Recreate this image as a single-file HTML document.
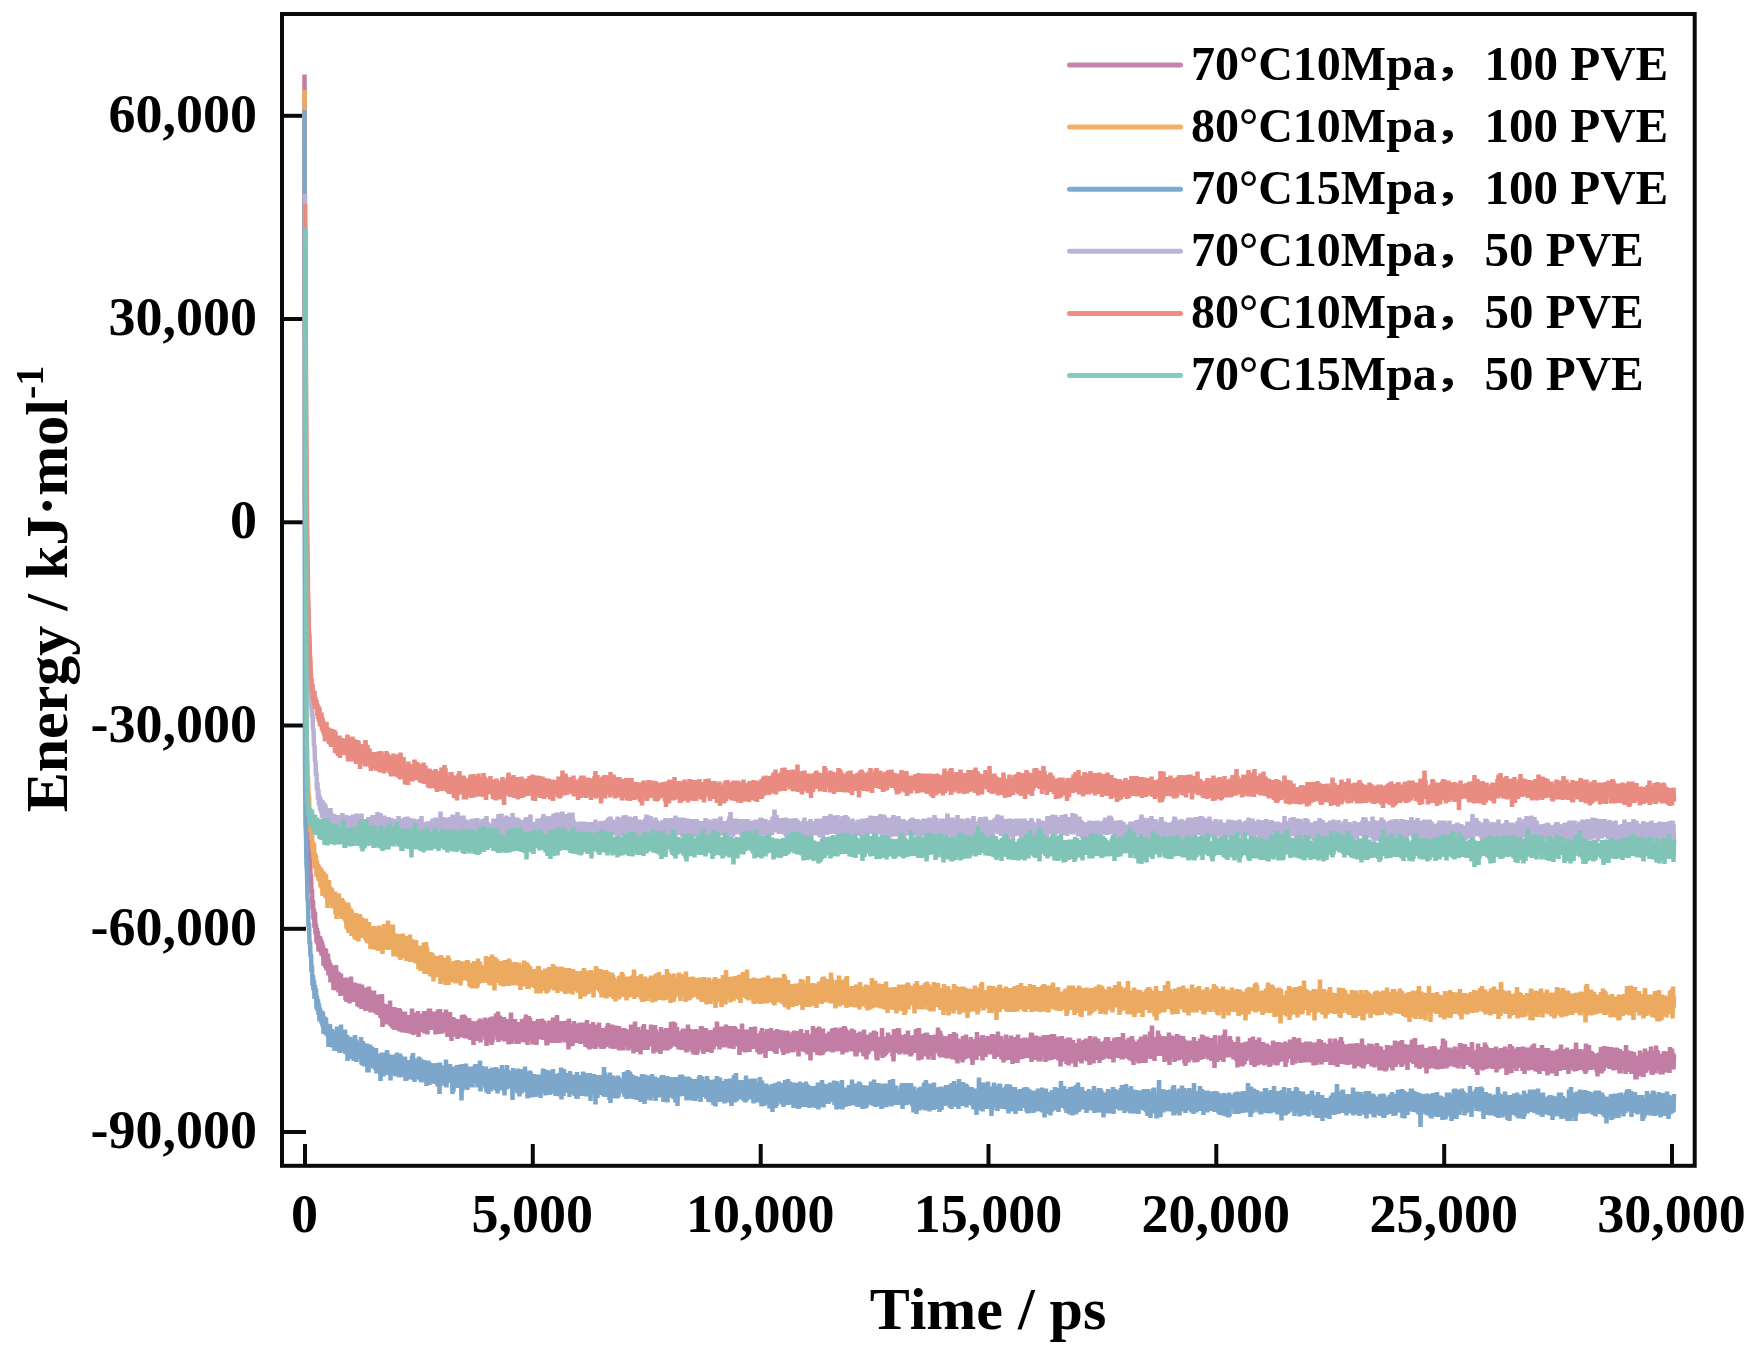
<!DOCTYPE html>
<html lang="en"><head><meta charset="utf-8"><title>Energy vs Time</title>
<style>
html,body{margin:0;padding:0;background:#fff}
svg{display:block;filter:blur(0.55px)}
text{font-family:"Liberation Serif","Noto Serif CJK SC",serif;font-weight:bold;fill:#000;font-kerning:none}
.tk{font-size:54px}
.lg{font-size:48px}
.cm{font-family:"Liberation Serif","Noto Sans CJK SC",sans-serif;font-size:36px}
.ti{font-size:60px}
.ln{fill:none;stroke-width:9;stroke-linejoin:bevel;stroke-linecap:butt}
</style></head><body>
<svg width="1761" height="1361" viewBox="0 0 1761 1361">
<rect width="1761" height="1361" fill="#fff"/>
<g stroke="#0a0a0a" stroke-width="4" fill="none">
<line x1="305.0" y1="1144" x2="305.0" y2="1165"/>
<line x1="532.8" y1="1144" x2="532.8" y2="1165"/>
<line x1="760.7" y1="1144" x2="760.7" y2="1165"/>
<line x1="988.5" y1="1144" x2="988.5" y2="1165"/>
<line x1="1216.3" y1="1144" x2="1216.3" y2="1165"/>
<line x1="1444.2" y1="1144" x2="1444.2" y2="1165"/>
<line x1="1672.0" y1="1144" x2="1672.0" y2="1165"/>
<line x1="283" y1="115.8" x2="306" y2="115.8"/>
<line x1="283" y1="319.0" x2="306" y2="319.0"/>
<line x1="283" y1="522.3" x2="306" y2="522.3"/>
<line x1="283" y1="725.5" x2="306" y2="725.5"/>
<line x1="283" y1="928.8" x2="306" y2="928.8"/>
<line x1="283" y1="1132.0" x2="306" y2="1132.0"/>
</g>
<g transform="scale(.5)">
<path class="ln" stroke="#C17DA4" d="M609 149l1 868l1 371l1 63l1 69l1 14l1 45l1 9l1 58l1 6l1 52l1 11l1 36l1-2l1 39l1-10l1 41l1-19l1 39l1-22l1 39l1-32l1 44l1-21l1 38l1-29l1 33l1-27l1 41l1-28l1 22l1-25l1 33l1-28l1 34l1-29l1 30l1-23l1 43l1-32l1 24l1-28l1 40l1-38l1 43l1-31l1 28l1-31l1 44l1-32l1 26l1-20l1 40l1-36l1 25l1-21l1 27l1-24l1 44l1-45l1 44l1-39l1 41l1-51l1 42l1-30l1 37l1-35l1 41l1-40l1 35l1-28l1 40l1-45l1 43l1-29l1 26l1-31l1 30l1-28l1 29l1-25l1 38l1-45l1 49l1-38l1 31l1-38l1 32l1-34l1 50l1-45l1 36l1-45l1 42l1-23l1 22l1-25l1 35l1-36l1 32l1-35l1 37l1-34l1 32l1-30l1 43l1-45l1 33l1-34l1 48l1-45l1 41l1-38l1 45l1-49l1 39l1-31l1 35l1-28l1 29l1-32l1 41l1-47l1 30l1-25l1 40l1-39l1 37l1-45l1 47l1-39l1 44l1-36l1 24l1-31l1 36l1-36l1 42l1-43l1 43l1-32l1 35l1-27l1 25l1-34l1 39l1-41l1 40l1-35l1 31l1-28l1 39l1-38l1 39l1-49l1 66l1-47l1 41l1-36l1 31l1-35l1 32l1-29l1 38l1-39l1 36l1-36l1 31l1-30l1 35l1-45l1 51l1-32l1 33l1-39l1 43l1-37l1 37l1-43l1 46l1-45l1 37l1-31l1 38l1-33l1 31l1-27l1 30l1-44l1 47l1-45l1 44l1-39l1 31l1-24l1 35l1-40l1 36l1-33l1 36l1-41l1 39l1-29l1 33l1-31l1 29l1-33l1 35l1-36l1 37l1-37l1 27l1-24l1 30l1-46l1 51l1-32l1 34l1-42l1 38l1-40l1 28l1-29l1 33l1-28l1 37l1-45l1 52l1-46l1 32l1-30l1 24l1-22l1 32l1-35l1 31l1-33l1 24l1-29l1 45l1-35l1 31l1-41l1 37l1-28l1 38l1-40l1 23l1-35l1 41l1-41l1 38l1-29l1 34l1-31l1 28l1-30l1 30l1-34l1 34l1-22l1 34l1-41l1 33l1-33l1 27l1-36l1 49l1-37l1 27l1-40l1 42l1-35l1 34l1-28l1 36l1-38l1 30l1-27l1 29l1-36l1 35l1-41l1 44l1-37l1 48l1-41l1 29l1-36l1 32l1-34l1 42l1-27l1 43l1-48l1 38l1-38l1 29l1-27l1 30l1-28l1 24l1-14l1 26l1-36l1 40l1-33l1 25l1-29l1 29l1-31l1 35l1-32l1 33l1-45l1 38l1-33l1 38l1-44l1 44l1-41l1 45l1-33l1 29l1-32l1 33l1-30l1 31l1-39l1 42l1-37l1 39l1-34l1 24l1-22l1 22l1-28l1 48l1-46l1 26l1-18l1 30l1-38l1 27l1-27l1 34l1-37l1 40l1-38l1 34l1-40l1 48l1-44l1 32l1-33l1 29l1-29l1 29l1-19l1 21l1-36l1 45l1-41l1 53l1-54l1 32l1-29l1 44l1-47l1 35l1-38l1 33l1-30l1 52l1-57l1 52l1-42l1 21l1-17l1 25l1-31l1 31l1-45l1 45l1-29l1 37l1-57l1 61l1-53l1 45l1-45l1 44l1-36l1 30l1-34l1 46l1-43l1 35l1-39l1 49l1-45l1 30l1-26l1 32l1-30l1 33l1-39l1 51l1-48l1 35l1-25l1 24l1-50l1 63l1-50l1 44l1-28l1 23l1-32l1 35l1-42l1 43l1-35l1 42l1-41l1 39l1-41l1 43l1-44l1 41l1-35l1 25l1-24l1 28l1-41l1 42l1-38l1 41l1-38l1 40l1-49l1 48l1-55l1 56l1-42l1 47l1-51l1 38l1-45l1 49l1-45l1 35l1-29l1 34l1-27l1 40l1-38l1 31l1-34l1 29l1-35l1 38l1-36l1 46l1-45l1 29l1-36l1 36l1-30l1 34l1-33l1 34l1-33l1 32l1-41l1 42l1-36l1 37l1-39l1 36l1-29l1 29l1-26l1 40l1-42l1 41l1-42l1 32l1-38l1 35l1-36l1 37l1-35l1 42l1-37l1 38l1-51l1 43l1-32l1 36l1-30l1 26l1-27l1 35l1-56l1 50l1-29l1 32l1-35l1 38l1-40l1 30l1-34l1 38l1-30l1 31l1-37l1 34l1-36l1 43l1-33l1 32l1-39l1 37l1-41l1 38l1-25l1 45l1-62l1 56l1-34l1 28l1-33l1 37l1-42l1 43l1-37l1 25l1-38l1 44l1-31l1 27l1-25l1 29l1-39l1 34l1-28l1 25l1-24l1 31l1-40l1 43l1-39l1 38l1-30l1 26l1-34l1 27l1-31l1 37l1-25l1 37l1-38l1 34l1-50l1 50l1-35l1 41l1-37l1 40l1-50l1 44l1-44l1 48l1-49l1 44l1-48l1 49l1-44l1 38l1-25l1 36l1-48l1 39l1-29l1 29l1-31l1 27l1-40l1 48l1-37l1 39l1-35l1 38l1-35l1 28l1-35l1 42l1-42l1 39l1-38l1 37l1-32l1 25l1-35l1 36l1-42l1 47l1-36l1 27l1-22l1 35l1-36l1 27l1-39l1 40l1-37l1 46l1-42l1 38l1-36l1 28l1-35l1 44l1-34l1 35l1-32l1 35l1-47l1 49l1-35l1 33l1-35l1 29l1-34l1 31l1-33l1 44l1-45l1 37l1-33l1 33l1-35l1 30l1-22l1 23l1-27l1 39l1-38l1 29l1-28l1 28l1-43l1 47l1-35l1 31l1-34l1 49l1-43l1 32l1-53l1 45l1-24l1 40l1-38l1 32l1-44l1 43l1-29l1 27l1-31l1 45l1-49l1 29l1-25l1 27l1-39l1 38l1-42l1 52l1-28l1 26l1-39l1 37l1-35l1 39l1-28l1 22l1-34l1 28l1-27l1 26l1-38l1 40l1-28l1 29l1-28l1 45l1-36l1 20l1-41l1 52l1-43l1 33l1-20l1 24l1-31l1 40l1-40l1 28l1-22l1 37l1-54l1 41l1-27l1 25l1-31l1 36l1-38l1 41l1-40l1 30l1-35l1 45l1-31l1 31l1-32l1 29l1-42l1 42l1-38l1 36l1-52l1 49l1-39l1 32l1-43l1 40l1-37l1 47l1-48l1 37l1-17l1 26l1-37l1 40l1-30l1 35l1-32l1 26l1-30l1 30l1-29l1 36l1-39l1 36l1-40l1 41l1-29l1 27l1-39l1 44l1-39l1 43l1-47l1 45l1-54l1 46l1-25l1 29l1-41l1 38l1-24l1 27l1-40l1 46l1-35l1 39l1-46l1 44l1-38l1 30l1-41l1 52l1-49l1 46l1-40l1 25l1-27l1 33l1-37l1 28l1-37l1 44l1-43l1 50l1-44l1 49l1-46l1 29l1-33l1 39l1-41l1 35l1-18l1 31l1-42l1 34l1-31l1 26l1-29l1 39l1-41l1 46l1-43l1 30l1-27l1 33l1-39l1 29l1-34l1 33l1-31l1 36l1-50l1 49l1-26l1 27l1-30l1 36l1-46l1 41l1-41l1 37l1-35l1 36l1-30l1 33l1-40l1 41l1-42l1 31l1-35l1 44l1-40l1 36l1-27l1 28l1-38l1 45l1-45l1 39l1-39l1 34l1-31l1 39l1-35l1 39l1-46l1 35l1-34l1 36l1-32l1 36l1-35l1 32l1-28l1 26l1-26l1 48l1-51l1 36l1-35l1 37l1-50l1 47l1-29l1 38l1-44l1 37l1-33l1 42l1-37l1 34l1-37l1 35l1-41l1 45l1-39l1 39l1-43l1 34l1-41l1 41l1-37l1 31l1-20l1 29l1-38l1 33l1-40l1 43l1-25l1 25l1-23l1 32l1-38l1 23l1-16l1 35l1-40l1 35l1-42l1 45l1-51l1 38l1-24l1 29l1-35l1 36l1-33l1 49l1-47l1 28l1-39l1 43l1-34l1 35l1-43l1 39l1-40l1 41l1-43l1 42l1-31l1 35l1-39l1 37l1-39l1 43l1-40l1 43l1-39l1 40l1-50l1 39l1-37l1 33l1-29l1 33l1-37l1 33l1-31l1 35l1-26l1 32l1-35l1 42l1-49l1 42l1-29l1 30l1-31l1 31l1-43l1 46l1-44l1 37l1-28l1 32l1-35l1 30l1-31l1 31l1-25l1 31l1-41l1 40l1-43l1 39l1-32l1 30l1-30l1 25l1-27l1 30l1-34l1 51l1-46l1 34l1-22l1 15l1-36l1 45l1-37l1 36l1-33l1 34l1-32l1 29l1-33l1 38l1-38l1 31l1-38l1 49l1-37l1 35l1-29l1 28l1-35l1 50l1-52l1 34l1-35l1 26l1-42l1 44l1-36l1 41l1-41l1 45l1-46l1 37l1-39l1 53l1-54l1 37l1-40l1 39l1-32l1 51l1-50l1 37l1-37l1 49l1-53l1 49l1-38l1 36l1-34l1 30l1-31l1 26l1-28l1 32l1-24l1 27l1-39l1 40l1-40l1 39l1-36l1 36l1-44l1 47l1-49l1 34l1-23l1 32l1-33l1 30l1-41l1 48l1-44l1 41l1-37l1 24l1-21l1 32l1-34l1 38l1-47l1 43l1-31l1 42l1-39l1 27l1-45l1 52l1-51l1 39l1-34l1 47l1-41l1 37l1-32l1 22l1-26l1 29l1-33l1 34l1-33l1 41l1-46l1 43l1-28l1 27l1-39l1 43l1-35l1 45l1-46l1 46l1-47l1 34l1-22l1 24l1-30l1 33l1-42l1 40l1-37l1 39l1-38l1 34l1-33l1 44l1-53l1 54l1-39l1 36l1-40l1 49l1-46l1 36l1-38l1 37l1-39l1 34l1-31l1 30l1-37l1 35l1-31l1 27l1-30l1 31l1-36l1 36l1-20l1 27l1-41l1 56l1-40l1 42l1-44l1 25l1-28l1 34l1-25l1 26l1-35l1 34l1-52l1 60l1-43l1 30l1-24l1 34l1-39l1 36l1-37l1 35l1-34l1 31l1-40l1 40l1-34l1 24l1-16l1 21l1-30l1 28l1-21l1 36l1-36l1 46l1-65l1 41l1-28l1 24l1-34l1 45l1-40l1 40l1-50l1 45l1-44l1 52l1-40l1 36l1-34l1 30l1-31l1 31l1-27l1 31l1-33l1 35l1-36l1 38l1-41l1 40l1-39l1 21l1-29l1 45l1-34l1 34l1-35l1 42l1-35l1 32l1-39l1 34l1-34l1 33l1-34l1 30l1-29l1 35l1-48l1 39l1-28l1 32l1-44l1 64l1-65l1 45l1-28l1 31l1-28l1 43l1-51l1 36l1-36l1 27l1-19l1 33l1-43l1 47l1-46l1 37l1-39l1 42l1-33l1 45l1-43l1 36l1-42l1 38l1-31l1 28l1-30l1 24l1-27l1 48l1-49l1 37l1-39l1 32l1-30l1 34l1-33l1 31l1-48l1 50l1-31l1 38l1-51l1 54l1-48l1 40l1-29l1 34l1-29l1 29l1-33l1 35l1-42l1 44l1-39l1 31l1-35l1 44l1-41l1 30l1-19l1 21l1-40l1 42l1-33l1 38l1-37l1 41l1-40l1 39l1-54l1 50l1-37l1 42l1-52l1 54l1-40l1 46l1-50l1 41l1-37l1 27l1-30l1 41l1-32l1 21l1-29l1 46l1-53l1 48l1-39l1 26l1-31l1 42l1-49l1 43l1-28l1 29l1-31l1 31l1-34l1 37l1-29l1 25l1-38l1 45l1-29l1 40l1-42l1 29l1-28l1 24l1-34l1 26l1-27l1 42l1-56l1 47l1-34l1 33l1-27l1 29l1-34l1 26l1-28l1 34l1-39l1 50l1-51l1 34l1-29l1 37l1-36l1 38l1-39l1 32l1-27l1 27l1-35l1 35l1-25l1 22l1-30l1 35l1-36l1 34l1-39l1 36l1-34l1 34l1-27l1 41l1-49l1 34l1-22l1 33l1-41l1 32l1-42l1 50l1-36l1 36l1-33l1 27l1-35l1 47l1-36l1 35l1-39l1 46l1-42l1 34l1-35l1 39l1-52l1 36l1-23l1 34l1-39l1 41l1-34l1 36l1-34l1 34l1-49l1 38l1-35l1 54l1-48l1 45l1-45l1 28l1-34l1 49l1-44l1 35l1-25l1 37l1-57l1 45l1-35l1 40l1-42l1 40l1-30l1 31l1-36l1 36l1-33l1 29l1-38l1 30l1-31l1 41l1-38l1 26l1-21l1 29l1-32l1 36l1-34l1 31l1-38l1 35l1-45l1 59l1-58l1 42l1-35l1 47l1-40l1 38l1-34l1 28l1-41l1 34l1-27l1 41l1-42l1 46l1-49l1 41l1-42l1 50l1-43l1 29l1-36l1 32l1-30l1 30l1-35l1 43l1-26l1 37l1-48l1 43l1-46l1 37l1-40l1 51l1-43l1 39l1-31l1 30l1-40l1 44l1-52l1 34l1-20l1 31l1-45l1 39l1-32l1 43l1-41l1 33l1-34l1 37l1-40l1 48l1-43l1 40l1-30l1 45l1-57l1 48l1-52l1 37l1-24l1 29l1-23l1 28l1-38l1 40l1-43l1 50l1-43l1 32l1-42l1 56l1-41l1 35l1-50l1 45l1-31l1 38l1-41l1 41l1-47l1 46l1-38l1 26l1-27l1 47l1-48l1 25l1-21l1 32l1-32l1 33l1-46l1 43l1-33l1 36l1-35l1 39l1-42l1 28l1-30l1 32l1-35l1 35l1-27l1 33l1-44l1 38l1-34l1 42l1-39l1 39l1-39l1 46l1-58l1 41l1-27l1 33l1-33l1 36l1-44l1 49l1-39l1 24l1-39l1 38l1-32l1 35l1-27l1 33l1-43l1 38l1-24l1 35l1-43l1 36l1-35l1 36l1-26l1 25l1-36l1 36l1-34l1 25l1-29l1 34l1-41l1 42l1-40l1 33l1-35l1 36l1-25l1 33l1-36l1 32l1-25l1 28l1-29l1 23l1-29l1 43l1-48l1 38l1-40l1 36l1-30l1 24l1-29l1 35l1-37l1 42l1-40l1 37l1-39l1 34l1-24l1 35l1-36l1 36l1-53l1 46l1-30l1 32l1-29l1 16l1-19l1 35l1-38l1 38l1-36l1 29l1-35l1 45l1-39l1 40l1-39l1 36l1-46l1 51l1-44l1 51l1-46l1 30l1-19l1 22l1-34l1 27l1-25l1 37l1-37l1 42l1-48l1 37l1-31l1 31l1-43l1 50l1-50l1 53l1-44l1 35l1-20l1 24l1-52l1 57l1-49l1 33l1-33l1 33l1-31l1 38l1-43l1 36l1-47l1 46l1-28l1 37l1-67l1 64l1-39l1 34l1-28l1 40l1-46l1 33l1-35l1 34l1-25l1 29l1-51l1 42l1-35l1 44l1-35l1 31l1-25l1 29l1-33l1 27l1-34l1 33l1-29l1 48l1-51l1 45l1-32l1 35l1-41l1 42l1-40l1 24l1-41l1 65l1-47l1 30l1-39l1 42l1-45l1 43l1-37l1 36l1-38l1 49l1-46l1 42l1-47l1 42l1-47l1 42l1-26l1 37l1-49l1 40l1-41l1 48l1-29l1 26l1-35l1 36l1-45l1 40l1-34l1 49l1-43l1 48l1-43l1 25l1-33l1 43l1-41l1 42l1-39l1 35l1-37l1 31l1-34l1 37l1-32l1 33l1-33l1 31l1-43l1 51l1-40l1 40l1-43l1 40l1-35l1 37l1-40l1 29l1-31l1 33l1-38l1 43l1-43l1 35l1-43l1 39l1-37l1 47l1-42l1 35l1-35l1 34l1-30l1 24l1-31l1 40l1-32l1 38l1-41l1 37l1-39l1 35l1-29l1 40l1-46l1 44l1-40l1 42l1-38l1 52l1-66l1 53l1-30l1 26l1-31l1 36l1-36l1 24l1-23l1 31l1-49l1 47l1-46l1 48l1-45l1 43l1-37l1 43l1-56l1 43l1-52l1 55l1-37l1 37l1-34l1 35l1-32l1 32l1-34l1 31l1-40l1 40l1-32l1 28l1-24l1 30l1-28l1 33l1-35l1 34l1-27l1 27l1-29l1 33l1-33l1 46l1-62l1 59l1-43l1 22l1-23l1 29l1-27l1 30l1-34l1 47l1-48l1 33l1-30l1 41l1-43l1 35l1-37l1 38l1-39l1 33l1-22l1 21l1-24l1 26l1-41l1 37l1-35l1 52l1-44l1 35l1-48l1 46l1-36l1 51l1-46l1 36l1-41l1 45l1-48l1 51l1-44l1 24l1-36l1 42l1-33l1 41l1-39l1 43l1-36l1 29l1-38l1 40l1-34l1 41l1-41l1 38l1-35l1 29l1-35l1 41l1-38l1 32l1-25l1 37l1-42l1 40l1-37l1 30l1-30l1 30l1-44l1 45l1-37l1 35l1-25l1 31l1-38l1 28l1-36l1 47l1-47l1 41l1-41l1 35l1-30l1 34l1-36l1 36l1-34l1 34l1-37l1 25l1-24l1 27l1-31l1 51l1-47l1 39l1-37l1 29l1-26l1 22l1-28l1 26l1-33l1 34l1-23l1 27l1-36l1 49l1-42l1 32l1-46l1 46l1-30l1 37l1-49l1 41l1-21l1 23l1-36l1 36l1-45l1 44l1-29l1 35l1-34l1 33l1-40l1 32l1-28l1 29l1-26l1 29l1-25l1 29l1-42l1 40l1-39l1 36l1-36l1 37l1-32l1 30l1-36l1 42l1-40l1 40l1-35l1 25l1-30l1 46l1-38l1 21l1-22l1 33l1-38l1 43l1-45l1 32l1-33l1 39l1-45l1 47l1-45l1 41l1-41l1 49l1-40l1 25l1-28l1 35l1-36l1 39l1-33l1 33l1-36l1 23l1-19l1 28l1-30l1 32l1-33l1 31l1-43l1 53l1-45l1 39l1-31l1 34l1-38l1 41l1-40l1 35l1-48l1 54l1-31l1 31l1-42l1 45l1-51l1 40l1-25l1 21l1-39l1 46l1-52l1 54l1-46l1 32l1-26l1 34l1-31l1 34l1-31l1 35l1-40l1 35l1-25l1 31l1-40l1 36l1-38l1 31l1-17l1 20l1-35l1 42l1-42l1 42l1-35l1 26l1-32l1 49l1-48l1 44l1-40l1 37l1-44l1 45l1-34l1 28l1-36l1 43l1-34l1 29l1-24l1 32l1-58l1 50l1-25l1 35l1-47l1 41l1-36l1 31l1-30l1 29l1-31l1 31l1-26l1 29l1-41l1 37l1-27l1 30l1-32l1 38l1-45l1 44l1-31l1 32l1-41l1 43l1-36l1 32l1-30l1 29l1-44l1 40l1-27l1 32l1-39l1 49l1-41l1 31l1-38l1 48l1-38l1 25l1-28l1 39l1-36l1 32l1-33l1 41l1-43l1 40l1-50l1 45l1-40l1 40l1-44l1 42l1-33l1 34l1-43l1 34l1-29l1 45l1-47l1 30l1-28l1 30l1-45l1 53l1-39l1 34l1-32l1 32l1-46l1 38l1-36l1 42l1-37l1 33l1-41l1 52l1-54l1 51l1-30l1 26l1-38l1 34l1-35l1 37l1-24l1 22l1-31l1 48l1-50l1 32l1-29l1 29l1-32l1 30l1-32l1 37l1-46l1 46l1-46l1 49l1-43l1 40l1-49l1 48l1-32l1 43l1-30l1 23l1-38l1 43l1-40l1 45l1-36l1 32l1-35l1 36l1-46l1 45l1-38l1 28l1-28l1 32l1-32l1 40l1-35l1 46l1-50l1 34l1-32l1 39l1-42l1 36l1-39l1 40l1-29l1 31l1-41l1 42l1-27l1 22l1-39l1 45l1-42l1 37l1-28l1 34l1-37l1 38l1-40l1 35l1-30l1 23l1-24l1 30l1-31l1 36l1-46l1 43l1-58l1 60l1-40l1 40l1-56l1 54l1-40l1 42l1-37l1 23l1-22l1 17l1-14l1 29l1-38l1 35l1-30l1 29l1-31l1 32l1-28l1 24l1-20l1 28l1-41l1 40l1-35l1 37l1-32l1 30l1-32l1 36l1-38l1 29l1-42l1 45l1-44l1 36l1-35l1 41l1-32l1 41l1-50l1 36l1-35l1 38l1-33l1 30l1-25l1 31l1-33l1 30l1-33l1 32l1-25l1 33l1-37l1 35l1-48l1 51l1-29l1 32l1-27l1 18l1-25l1 32l1-33l1 41l1-44l1 50l1-63l1 51l1-38l1 32l1-32l1 33l1-39l1 39l1-31l1 39l1-35l1 33l1-43l1 32l1-43l1 47l1-42l1 48l1-44l1 42l1-37l1 31l1-25l1 28l1-35l1 27l1-29l1 39l1-39l1 42l1-36l1 36l1-35l1 27l1-31l1 37l1-43l1 52l1-44l1 38l1-35l1 35l1-33l1 24l1-30l1 34l1-38l1 41l1-31l1 22l1-30l1 37l1-39l1 33l1-36l1 42l1-32l1 47l1-51l1 41l1-42l1 43l1-43l1 49l1-59l1 39l1-23l1 42l1-54l1 33l1-25l1 27l1-22l1 28l1-33l1 37l1-40l1 45l1-45l1 39l1-42l1 36l1-35l1 31l1-23l1 32l1-41l1 41l1-36l1 43l1-49l1 43l1-33l1 45l1-41l1 27l1-28l1 27l1-38l1 41l1-31l1 36l1-34l1 33l1-45l1 39l1-35l1 35l1-43l1 43l1-30l1 36l1-53l1 47l1-26l1 35l1-45l1 39l1-37l1 38l1-42l1 48l1-44l1 48l1-45l1 39l1-45l1 40l1-47l1 52l1-44l1 40l1-32l1 36l1-46l1 35l1-28l1 40l1-37l1 45l1-55l1 38l1-29l1 42l1-42l1 35l1-39l1 46l1-45l1 36l1-30l1 37l1-38l1 40l1-38l1 37l1-44l1 50l1-53l1 36l1-30l1 34l1-40l1 43l1-45l1 40l1-48l1 39l1-30l1 42l1-31l1 27l1-36l1 31l1-32l1 32l1-27l1 36l1-45l1 43l1-29l1 39l1-45l1 38l1-40l1 29l1-30l1 32l1-29l1 35l1-40l1 40l1-36l1 41l1-38l1 36l1-56l1 57l1-32l1 27l1-33l1 25l1-29l1 36l1-38l1 42l1-39l1 30l1-30l1 31l1-27l1 24l1-26l1 40l1-45l1 50l1-61l1 56l1-35l1 27l1-28l1 31l1-48l1 50l1-33l1 33l1-38l1 37l1-36l1 36l1-33l1 29l1-24l1 23l1-25l1 24l1-26l1 36l1-29l1 39l1-42l1 35l1-41l1 32l1-23l1 18l1-38l1 53l1-45l1 41l1-40l1 39l1-50l1 44l1-40l1 38l1-20l1 16l1-37l1 40l1-33l1 34l1-26l1 30l1-38l1 31l1-37l1 42l1-27l1 27l1-39l1 44l1-38l1 35l1-29l1 27l1-41l1 45l1-44l1 42l1-22l1 24l1-38l1 45l1-49l1 49l1-45l1 38l1-37l1 33l1-33l1 35l1-36l1 23l1-19l1 42l1-58l1 45l1-30l1 39l1-43l1 41l1-35l1 29l1-18l1 26l1-42l1 46l1-36l1 34l1-34l1 32l1-40l1 39l1-32l1 48l1-45l1 45l1-43l1 37l1-41l1 39l1-28l1 21l1-43l1 43l1-37l1 44l1-35l1 37l1-36l1 37l1-35l1 23l1-45l1 49l1-25l1 22l1-35l1 31l1-30l1 29l1-36l1 35l1-19l1 11l1-36l1 55l1-46l1 48l1-38l1 32l1-37l1 36l1-38l1 42l1-56l1 46l1-37l1 35l1-33l1 39l1-32l1 29l1-30l1 41l1-35l1 22l1-28l1 41l1-42l1 38l1-43l1 39l1-37l1 31l1-32l1 31l1-27l1 38l1-37l1 29l1-28l1 37l1-52l1 45l1-34l1 29l1-37l1 36l1-28l1 34l1-30"/>
<path class="ln" stroke="#EBAA5F" d="M609 180l1 780l1 315l1 114l1 80l1 21l1 58l1 6l1 41l1-4l1 37l1-4l1 40l1-17l1 34l1-11l1 30l1-15l1 32l1-32l1 52l1-32l1 32l1-27l1 43l1-32l1 33l1-26l1 33l1-30l1 32l1-22l1 33l1-39l1 42l1-37l1 52l1-41l1 41l1-49l1 48l1-37l1 42l1-48l1 47l1-21l1 42l1-53l1 42l1-45l1 49l1-36l1 36l1-34l1 34l1-32l1 40l1-33l1 32l1-30l1 30l1-33l1 45l1-42l1 52l1-41l1 26l1-36l1 36l1-36l1 40l1-24l1 29l1-30l1 36l1-42l1 34l1-30l1 37l1-33l1 36l1-31l1 35l1-30l1 43l1-42l1 45l1-55l1 61l1-55l1 44l1-34l1 31l1-35l1 55l1-50l1 42l1-36l1 42l1-33l1 40l1-50l1 53l1-54l1 36l1-28l1 28l1-25l1 46l1-55l1 42l1-42l1 43l1-32l1 35l1-39l1 41l1-28l1 27l1-37l1 36l1-32l1 38l1-43l1 47l1-37l1 40l1-41l1 38l1-40l1 40l1-30l1 44l1-38l1 23l1-25l1 36l1-39l1 44l1-47l1 37l1-35l1 33l1-32l1 34l1-26l1 37l1-42l1 44l1-51l1 44l1-32l1 26l1-33l1 40l1-42l1 54l1-51l1 33l1-42l1 40l1-36l1 47l1-34l1 31l1-45l1 44l1-54l1 59l1-38l1 34l1-32l1 34l1-49l1 42l1-30l1 37l1-49l1 64l1-42l1 32l1-30l1 23l1-29l1 33l1-28l1 38l1-38l1 43l1-43l1 31l1-35l1 52l1-51l1 47l1-45l1 46l1-50l1 37l1-31l1 33l1-30l1 39l1-32l1 39l1-36l1 25l1-39l1 50l1-36l1 35l1-52l1 55l1-39l1 36l1-43l1 46l1-40l1 39l1-32l1 33l1-37l1 40l1-47l1 37l1-22l1 20l1-22l1 45l1-34l1 24l1-30l1 44l1-51l1 44l1-33l1 40l1-39l1 26l1-44l1 63l1-35l1 23l1-52l1 64l1-55l1 50l1-36l1 37l1-35l1 40l1-45l1 49l1-48l1 37l1-37l1 46l1-42l1 54l1-51l1 43l1-36l1 30l1-27l1 18l1-28l1 42l1-42l1 39l1-37l1 27l1-27l1 54l1-58l1 41l1-37l1 33l1-20l1 38l1-49l1 38l1-31l1 47l1-45l1 30l1-36l1 48l1-56l1 59l1-54l1 49l1-39l1 37l1-38l1 37l1-36l1 33l1-30l1 35l1-42l1 43l1-41l1 43l1-45l1 43l1-45l1 37l1-37l1 44l1-40l1 42l1-44l1 49l1-40l1 24l1-28l1 32l1-31l1 27l1-32l1 38l1-35l1 35l1-27l1 23l1-37l1 39l1-38l1 42l1-35l1 44l1-45l1 48l1-49l1 32l1-27l1 46l1-48l1 37l1-44l1 38l1-28l1 38l1-41l1 48l1-46l1 43l1-57l1 51l1-41l1 37l1-41l1 43l1-36l1 35l1-28l1 29l1-34l1 30l1-21l1 17l1-26l1 29l1-49l1 47l1-37l1 44l1-52l1 47l1-39l1 48l1-47l1 48l1-40l1 24l1-46l1 56l1-39l1 26l1-24l1 53l1-67l1 50l1-46l1 39l1-39l1 48l1-38l1 30l1-36l1 40l1-25l1 34l1-43l1 43l1-49l1 43l1-36l1 44l1-42l1 40l1-51l1 37l1-23l1 30l1-37l1 41l1-48l1 52l1-55l1 53l1-49l1 38l1-34l1 38l1-36l1 44l1-46l1 41l1-39l1 40l1-43l1 44l1-40l1 41l1-39l1 41l1-39l1 36l1-43l1 42l1-28l1 41l1-43l1 22l1-28l1 41l1-38l1 36l1-49l1 44l1-41l1 49l1-28l1 26l1-46l1 53l1-50l1 50l1-41l1 33l1-38l1 36l1-28l1 29l1-30l1 35l1-36l1 35l1-32l1 35l1-38l1 36l1-34l1 47l1-48l1 35l1-42l1 55l1-54l1 40l1-32l1 46l1-46l1 41l1-39l1 38l1-39l1 33l1-24l1 27l1-41l1 35l1-25l1 40l1-45l1 43l1-46l1 43l1-48l1 39l1-29l1 30l1-30l1 33l1-25l1 25l1-49l1 51l1-43l1 45l1-49l1 42l1-39l1 40l1-39l1 50l1-49l1 36l1-39l1 47l1-38l1 32l1-42l1 42l1-41l1 49l1-40l1 35l1-29l1 36l1-49l1 52l1-45l1 36l1-39l1 39l1-31l1 39l1-51l1 43l1-27l1 29l1-40l1 44l1-45l1 49l1-51l1 36l1-26l1 33l1-35l1 37l1-41l1 33l1-26l1 33l1-39l1 43l1-39l1 38l1-42l1 55l1-56l1 50l1-49l1 45l1-47l1 38l1-43l1 57l1-43l1 40l1-49l1 46l1-41l1 27l1-30l1 45l1-38l1 33l1-38l1 38l1-43l1 36l1-31l1 35l1-32l1 47l1-46l1 31l1-28l1 28l1-48l1 39l1-34l1 34l1-28l1 37l1-24l1 27l1-45l1 48l1-47l1 56l1-50l1 22l1-26l1 41l1-30l1 43l1-47l1 44l1-52l1 57l1-50l1 39l1-43l1 45l1-37l1 35l1-35l1 42l1-39l1 40l1-49l1 41l1-36l1 48l1-43l1 36l1-32l1 44l1-44l1 35l1-31l1 28l1-26l1 34l1-47l1 45l1-46l1 31l1-28l1 37l1-47l1 44l1-40l1 45l1-39l1 40l1-33l1 31l1-28l1 37l1-34l1 27l1-41l1 42l1-37l1 31l1-24l1 29l1-27l1 24l1-40l1 35l1-24l1 31l1-54l1 59l1-42l1 38l1-29l1 28l1-41l1 30l1-28l1 39l1-37l1 30l1-34l1 44l1-48l1 53l1-44l1 47l1-48l1 47l1-48l1 36l1-38l1 31l1-27l1 32l1-31l1 44l1-36l1 28l1-36l1 36l1-38l1 40l1-45l1 46l1-38l1 46l1-54l1 51l1-44l1 43l1-43l1 45l1-56l1 37l1-34l1 42l1-38l1 46l1-56l1 50l1-33l1 29l1-37l1 37l1-32l1 41l1-37l1 39l1-51l1 49l1-42l1 43l1-44l1 29l1-47l1 46l1-38l1 44l1-43l1 51l1-48l1 56l1-50l1 42l1-41l1 25l1-24l1 46l1-57l1 50l1-42l1 31l1-28l1 30l1-33l1 38l1-29l1 28l1-47l1 44l1-41l1 54l1-54l1 36l1-29l1 35l1-40l1 33l1-26l1 36l1-43l1 54l1-61l1 51l1-34l1 24l1-29l1 46l1-47l1 46l1-41l1 38l1-38l1 37l1-43l1 37l1-37l1 37l1-26l1 23l1-25l1 32l1-38l1 34l1-24l1 24l1-28l1 37l1-39l1 32l1-37l1 30l1-26l1 45l1-41l1 41l1-32l1 28l1-46l1 46l1-35l1 36l1-42l1 50l1-34l1 17l1-20l1 35l1-52l1 42l1-22l1 33l1-42l1 37l1-41l1 34l1-30l1 31l1-39l1 42l1-46l1 62l1-50l1 39l1-46l1 41l1-43l1 40l1-40l1 39l1-34l1 40l1-44l1 56l1-56l1 40l1-48l1 47l1-44l1 51l1-45l1 50l1-69l1 54l1-36l1 40l1-38l1 30l1-36l1 41l1-41l1 51l1-50l1 38l1-40l1 48l1-38l1 39l1-44l1 35l1-39l1 44l1-46l1 33l1-33l1 41l1-32l1 32l1-43l1 50l1-51l1 57l1-55l1 35l1-26l1 32l1-48l1 47l1-39l1 43l1-36l1 32l1-27l1 34l1-59l1 58l1-39l1 43l1-38l1 30l1-36l1 41l1-32l1 31l1-31l1 29l1-28l1 40l1-52l1 53l1-48l1 42l1-36l1 40l1-45l1 42l1-46l1 37l1-22l1 34l1-42l1 44l1-49l1 42l1-45l1 44l1-40l1 43l1-48l1 52l1-50l1 41l1-40l1 49l1-46l1 36l1-46l1 49l1-42l1 47l1-45l1 33l1-28l1 31l1-39l1 47l1-47l1 51l1-49l1 52l1-56l1 44l1-43l1 44l1-38l1 38l1-45l1 50l1-46l1 46l1-49l1 47l1-37l1 27l1-26l1 41l1-42l1 33l1-51l1 64l1-59l1 62l1-48l1 32l1-36l1 36l1-39l1 59l1-51l1 35l1-34l1 26l1-27l1 40l1-33l1 39l1-44l1 40l1-42l1 30l1-28l1 35l1-38l1 45l1-40l1 30l1-33l1 34l1-28l1 33l1-42l1 37l1-45l1 52l1-50l1 60l1-60l1 47l1-36l1 37l1-29l1 29l1-36l1 42l1-42l1 28l1-48l1 59l1-39l1 42l1-41l1 37l1-42l1 41l1-40l1 33l1-36l1 43l1-38l1 41l1-40l1 31l1-34l1 47l1-45l1 31l1-35l1 38l1-42l1 42l1-39l1 38l1-33l1 37l1-51l1 48l1-51l1 44l1-45l1 47l1-35l1 40l1-36l1 33l1-44l1 37l1-36l1 40l1-27l1 29l1-36l1 42l1-62l1 59l1-47l1 43l1-33l1 34l1-34l1 40l1-40l1 50l1-46l1 33l1-44l1 39l1-39l1 45l1-54l1 62l1-42l1 37l1-47l1 49l1-46l1 38l1-32l1 40l1-51l1 47l1-32l1 30l1-49l1 61l1-64l1 60l1-37l1 31l1-24l1 26l1-33l1 39l1-32l1 31l1-41l1 33l1-25l1 33l1-36l1 29l1-33l1 42l1-46l1 46l1-29l1 22l1-22l1 25l1-32l1 40l1-55l1 47l1-34l1 36l1-34l1 28l1-34l1 39l1-37l1 34l1-26l1 22l1-36l1 47l1-45l1 50l1-46l1 32l1-23l1 35l1-47l1 28l1-20l1 28l1-52l1 61l1-43l1 30l1-36l1 44l1-51l1 46l1-40l1 48l1-46l1 37l1-39l1 44l1-44l1 38l1-25l1 37l1-49l1 41l1-30l1 32l1-30l1 30l1-43l1 51l1-44l1 36l1-48l1 41l1-29l1 51l1-43l1 24l1-31l1 37l1-38l1 34l1-29l1 39l1-33l1 33l1-41l1 37l1-41l1 46l1-35l1 32l1-32l1 42l1-52l1 44l1-41l1 36l1-45l1 50l1-47l1 45l1-30l1 35l1-49l1 37l1-41l1 44l1-41l1 58l1-55l1 51l1-48l1 26l1-37l1 40l1-42l1 54l1-49l1 41l1-31l1 30l1-38l1 35l1-33l1 31l1-32l1 32l1-29l1 51l1-60l1 51l1-42l1 23l1-37l1 43l1-34l1 35l1-26l1 39l1-41l1 34l1-33l1 26l1-34l1 37l1-38l1 49l1-48l1 28l1-33l1 39l1-25l1 34l1-51l1 39l1-34l1 52l1-51l1 39l1-31l1 46l1-49l1 33l1-26l1 33l1-30l1 39l1-59l1 45l1-38l1 43l1-36l1 36l1-42l1 39l1-45l1 46l1-34l1 37l1-39l1 44l1-40l1 38l1-40l1 38l1-39l1 53l1-62l1 35l1-20l1 35l1-36l1 29l1-36l1 47l1-50l1 59l1-52l1 33l1-33l1 36l1-34l1 42l1-43l1 33l1-27l1 41l1-59l1 53l1-40l1 37l1-46l1 40l1-28l1 28l1-38l1 43l1-31l1 43l1-49l1 34l1-38l1 37l1-40l1 50l1-50l1 52l1-46l1 42l1-46l1 44l1-36l1 25l1-29l1 57l1-52l1 35l1-42l1 47l1-44l1 42l1-39l1 26l1-31l1 43l1-32l1 34l1-43l1 42l1-51l1 42l1-37l1 40l1-40l1 53l1-50l1 44l1-42l1 27l1-33l1 41l1-48l1 43l1-47l1 48l1-23l1 32l1-38l1 26l1-29l1 37l1-37l1 34l1-32l1 28l1-30l1 33l1-42l1 55l1-46l1 40l1-38l1 44l1-44l1 28l1-38l1 42l1-31l1 37l1-42l1 34l1-37l1 65l1-62l1 39l1-37l1 35l1-44l1 53l1-55l1 44l1-37l1 29l1-27l1 40l1-38l1 31l1-32l1 36l1-37l1 33l1-38l1 50l1-45l1 37l1-28l1 37l1-33l1 18l1-33l1 41l1-33l1 40l1-47l1 40l1-42l1 48l1-47l1 48l1-52l1 35l1-32l1 47l1-48l1 49l1-53l1 39l1-37l1 46l1-45l1 39l1-46l1 47l1-41l1 41l1-32l1 41l1-37l1 23l1-36l1 52l1-47l1 35l1-35l1 41l1-40l1 37l1-39l1 40l1-48l1 42l1-30l1 44l1-47l1 38l1-44l1 39l1-40l1 43l1-31l1 39l1-47l1 49l1-47l1 38l1-27l1 27l1-40l1 42l1-37l1 45l1-45l1 39l1-46l1 45l1-47l1 43l1-45l1 55l1-42l1 29l1-39l1 41l1-34l1 46l1-51l1 52l1-54l1 43l1-40l1 40l1-30l1 28l1-37l1 37l1-47l1 54l1-41l1 36l1-31l1 34l1-40l1 44l1-37l1 27l1-37l1 43l1-32l1 37l1-35l1 35l1-33l1 29l1-35l1 32l1-27l1 20l1-21l1 32l1-40l1 37l1-39l1 55l1-49l1 44l1-46l1 38l1-48l1 45l1-33l1 24l1-16l1 29l1-37l1 36l1-48l1 48l1-33l1 44l1-45l1 22l1-25l1 42l1-48l1 50l1-48l1 47l1-54l1 43l1-39l1 57l1-45l1 47l1-58l1 41l1-28l1 31l1-40l1 42l1-45l1 40l1-37l1 36l1-41l1 45l1-41l1 39l1-34l1 47l1-53l1 47l1-42l1 44l1-51l1 42l1-35l1 37l1-37l1 40l1-42l1 37l1-45l1 43l1-35l1 38l1-42l1 38l1-46l1 39l1-37l1 57l1-57l1 47l1-45l1 34l1-30l1 35l1-33l1 45l1-41l1 46l1-49l1 40l1-38l1 39l1-41l1 37l1-44l1 36l1-30l1 36l1-38l1 38l1-31l1 41l1-49l1 39l1-39l1 35l1-41l1 42l1-29l1 27l1-22l1 26l1-42l1 45l1-54l1 67l1-56l1 50l1-51l1 36l1-28l1 39l1-41l1 42l1-37l1 27l1-21l1 23l1-38l1 40l1-31l1 44l1-66l1 67l1-47l1 42l1-37l1 42l1-48l1 37l1-37l1 41l1-41l1 45l1-51l1 59l1-55l1 48l1-47l1 42l1-43l1 47l1-43l1 30l1-22l1 30l1-41l1 45l1-42l1 43l1-42l1 50l1-50l1 31l1-26l1 31l1-31l1 30l1-38l1 32l1-35l1 41l1-44l1 40l1-41l1 52l1-49l1 38l1-30l1 38l1-42l1 38l1-34l1 37l1-38l1 49l1-51l1 43l1-53l1 69l1-60l1 34l1-28l1 41l1-40l1 31l1-33l1 34l1-38l1 43l1-40l1 23l1-24l1 41l1-41l1 39l1-53l1 39l1-23l1 31l1-27l1 27l1-55l1 56l1-28l1 24l1-36l1 39l1-32l1 36l1-32l1 40l1-41l1 37l1-38l1 32l1-42l1 43l1-35l1 42l1-33l1 34l1-48l1 37l1-43l1 42l1-29l1 30l1-27l1 25l1-38l1 42l1-48l1 47l1-25l1 32l1-40l1 40l1-36l1 29l1-41l1 49l1-32l1 37l1-45l1 39l1-39l1 32l1-29l1 23l1-43l1 54l1-46l1 42l1-37l1 43l1-45l1 33l1-23l1 35l1-50l1 43l1-36l1 32l1-42l1 48l1-39l1 39l1-38l1 33l1-26l1 33l1-34l1 40l1-49l1 50l1-49l1 44l1-36l1 26l1-40l1 46l1-37l1 28l1-27l1 30l1-25l1 35l1-39l1 31l1-38l1 38l1-37l1 37l1-48l1 49l1-26l1 33l1-52l1 39l1-19l1 37l1-50l1 52l1-54l1 41l1-37l1 34l1-27l1 28l1-25l1 30l1-48l1 64l1-52l1 33l1-30l1 24l1-33l1 41l1-40l1 43l1-37l1 45l1-43l1 30l1-28l1 32l1-40l1 36l1-43l1 46l1-40l1 43l1-34l1 29l1-29l1 30l1-37l1 41l1-46l1 39l1-28l1 43l1-38l1 36l1-51l1 43l1-31l1 35l1-41l1 37l1-35l1 42l1-46l1 39l1-29l1 48l1-58l1 39l1-45l1 46l1-38l1 44l1-55l1 45l1-40l1 43l1-47l1 47l1-31l1 29l1-31l1 31l1-37l1 31l1-46l1 57l1-60l1 43l1-38l1 45l1-25l1 19l1-26l1 40l1-38l1 37l1-37l1 24l1-28l1 49l1-47l1 36l1-33l1 40l1-43l1 37l1-43l1 41l1-36l1 41l1-58l1 56l1-35l1 40l1-36l1 27l1-33l1 35l1-50l1 50l1-46l1 52l1-44l1 53l1-57l1 56l1-56l1 32l1-28l1 42l1-45l1 53l1-56l1 49l1-39l1 62l1-69l1 51l1-39l1 40l1-36l1 35l1-38l1 39l1-32l1 22l1-25l1 38l1-52l1 43l1-37l1 38l1-53l1 68l1-54l1 45l1-50l1 42l1-33l1 29l1-44l1 54l1-35l1 35l1-50l1 36l1-41l1 46l1-44l1 59l1-51l1 40l1-29l1 24l1-47l1 45l1-41l1 53l1-55l1 53l1-55l1 43l1-54l1 50l1-24l1 29l1-38l1 42l1-40l1 40l1-32l1 43l1-44l1 34l1-39l1 43l1-40l1 26l1-30l1 40l1-34l1 25l1-34l1 63l1-52l1 36l1-46l1 34l1-25l1 37l1-46l1 45l1-35l1 32l1-62l1 51l1-18l1 31l1-44l1 50l1-41l1 35l1-45l1 42l1-22l1 39l1-53l1 34l1-24l1 35l1-45l1 38l1-43l1 43l1-48l1 52l1-28l1 26l1-39l1 39l1-27l1 30l1-34l1 35l1-42l1 39l1-27l1 30l1-39l1 32l1-31l1 32l1-47l1 58l1-45l1 48l1-53l1 35l1-25l1 33l1-50l1 39l1-26l1 32l1-41l1 41l1-30l1 29l1-33l1 40l1-24l1 20l1-33l1 40l1-38l1 36l1-36l1 33l1-45l1 43l1-32l1 45l1-33l1 21l1-36l1 48l1-55l1 45l1-37l1 36l1-33l1 34l1-30l1 36l1-39l1 30l1-43l1 42l1-35l1 53l1-51l1 52l1-51l1 38l1-36l1 36l1-48l1 38l1-22l1 22l1-35l1 39l1-36l1 37l1-35l1 48l1-37l1 27l1-35l1 31l1-28l1 25l1-24l1 23l1-35l1 46l1-46l1 44l1-46l1 50l1-47l1 43l1-35l1 33l1-34l1 28l1-34l1 45l1-45l1 32l1-36l1 43l1-34l1 31l1-31l1 34l1-38l1 34l1-45l1 53l1-44l1 29l1-29l1 30l1-24l1 41l1-46l1 39l1-32l1 28l1-42l1 46l1-46l1 35l1-29l1 43l1-44l1 44l1-34l1 23l1-22l1 29l1-37l1 42l1-51l1 48l1-36l1 34l1-41l1 39l1-21l1 32l1-27l1 25l1-43l1 47l1-42l1 43l1-33l1 30l1-47l1 48l1-43l1 54l1-60l1 50l1-35l1 21l1-23l1 38l1-54l1 46l1-38l1 44l1-38l1 43l1-55l1 47l1-45l1 46l1-51l1 47l1-55l1 52l1-38l1 52l1-55l1 53l1-50l1 47l1-48l1 41l1-29l1 25l1-29l1 48l1-55l1 41l1-30l1 21l1-31l1 38l1-53l1 56l1-32l1 48l1-54l1 29l1-33l1 37l1-30l1 30l1-36l1 35l1-31l1 35l1-32l1 34l1-44l1 43l1-34l1 31l1-35l1 29l1-28l1 45l1-42l1 34l1-34l1 28l1-27l1 37l1-37l1 45l1-57l1 46l1-35l1 42l1-47l1 40l1-33l1 40l1-50l1 45l1-50l1 56l1-52l1 45l1-33l1 32l1-44l1 43l1-42l1 39l1-39l1 43l1-31l1 25l1-32l1 36l1-41l1 33l1-34l1 45l1-51l1 54l1-46l1 53l1-41l1 26l1-36l1 40l1-31l1 27l1-38l1 41l1-33l1 28l1-27l1 34l1-42l1 30l1-21l1 21l1-18l1 25l1-40l1 35l1-28l1 35l1-37l1 26l1-35l1 37l1-36l1 38l1-38l1 44l1-36l1 30l1-37l1 41l1-34l1 30l1-43l1 38l1-29l1 36l1-49l1 47l1-38l1 43l1-25l1 25l1-45l1 50l1-37l1 30l1-38l1 38l1-39l1 43l1-42l1 43l1-39l1 43l1-54l1 46l1-41l1 34l1-21l1 30l1-52l1 55l1-44l1 32l1-37l1 49l1-34l1 30l1-43l1 57l1-52l1 38l1-28l1 36l1-68l1 60l1-45l1 42l1-30l1 33l1-43l1 41l1-31l1 37l1-33l1 28l1-39l1 42l1-32l1 31l1-44l1 56l1-44l1 39l1-31l1 26l1-39l1 37l1-33l1 31l1-30l1 37l1-33l1 31l1-42l1 41l1-53l1 63l1-36l1 21l1-38l1 46l1-36l1 41l1-49l1 49l1-39l1 34l1-35l1 39l1-40l1 38l1-42l1 43l1-43l1 36l1-40l1 40l1-32l1 25l1-27l1 33l1-34l1 49l1-63l1 58l1-41l1 47l1-56l1 33l1-28l1 42l1-51l1 45l1-40l1 34l1-26l1 40l1-52l1 34l1-19l1 26l1-25l1 26l1-47l1 51l1-38l1 45l1-39l1 25l1-31l1 28l1-33l1 34l1-32l1 38l1-46l1 49l1-39l1 29l1-25l1 36l1-42l1 40l1-40l1 46l1-48l1 47l1-39l1 39l1-38l1 43l1-52l1 46l1-46l1 36l1-47l1 54l1-52l1 43l1-35l1 30l1-33l1 51l1-49l1 52l1-46l1 34l1-47l1 50l1-33l1 39l1-51l1 52l1-46l1 45l1-35l1 24l1-40l1 48l1-32l1 27l1-31l1 27l1-33l1 43l1-43l1 42l1-34l1 28l1-29l1 32l1-35l1 29l1-34l1 33l1-34l1 36l1-27l1 31l1-37l1 41l1-34l1 36l1-48l1 43l1-42l1 36l1-36l1 39l1-35l1 38l1-35l1 54l1-74l1 60l1-63l1 62l1-43l1 34l1-27l1 28l1-38l1 44l1-49l1 52l1-35l1 26l1-39l1 41l1-40l1 38l1-30l1 37l1-40l1 27l1-27l1 35l1-34l1 30l1-30l1 37l1-36l1 27l1-34l1 42l1-36l1 25l1-38l1 37l1-22l1 38l1-49l1 49l1-45l1 33l1-22l1 31l1-30l1 26l1-32l1 28l1-29l1 45l1-45l1 40l1-42l1 43l1-29l1 32l1-34l1 28l1-34l1 31l1-32l1 42l1-42l1 41l1-41l1 48l1-52l1 51l1-41l1 33l1-31l1 27l1-38l1 42l1-42l1 40l1-42l1 39l1-29l1 28l1-38l1 38l1-54l1 57l1-54l1 40l1-21l1 37l1-53l1 50l1-57l1 53l1-47l1 44l1-37l1 56l1-59l1 39l1-46l1 41l1-26l1 36l1-31l1 21l1-25l1 34l1-42l1 49l1-43l1 31l1-27l1 31l1-33l1 38l1-34l1 43l1-49l1 44l1-56l1 50l1-24l1 30l1-40l1 31l1-30l1 32l1-36l1 39l1-27l1 22l1-34l1 42l1-35l1 39l1-37l1 35l1-40l1 34l1-45l1 47l1-32l1 40l1-47l1 53l1-46l1 42l1-59l1 63l1-47l1 39l1-34l1 39l1-51l1 42l1-38l1 32l1-32l1 30l1-32l1 38l1-34l1 40l1-39l1 28l1-30l1 34l1-35l1 29l1-40l1 42l1-45l1 40l1-32l1 50l1-64l1 44l1-24"/>
<path class="ln" stroke="#7CA7CA" d="M609 220l1 1307l1 123l1 20l1 60l1 12l1 57l1 4l1 52l1-9l1 43l1-7l1 32l1-6l1 37l1-14l1 41l1-22l1 31l1-21l1 38l1-28l1 28l1-21l1 41l1-27l1 31l1-24l1 32l1-23l1 36l1-28l1 28l1-22l1 26l1-26l1 32l1-29l1 44l1-34l1 33l1-34l1 36l1-33l1 35l1-24l1 26l1-25l1 46l1-34l1 33l1-45l1 36l1-22l1 29l1-33l1 37l1-30l1 30l1-32l1 39l1-40l1 24l1-9l1 25l1-49l1 37l1-37l1 49l1-47l1 51l1-45l1 32l1-44l1 56l1-42l1 34l1-32l1 36l1-31l1 30l1-41l1 49l1-37l1 31l1-32l1 52l1-49l1 35l1-22l1 14l1-26l1 35l1-30l1 39l1-40l1 36l1-39l1 46l1-45l1 46l1-52l1 41l1-32l1 45l1-39l1 33l1-35l1 30l1-24l1 25l1-30l1 34l1-44l1 55l1-36l1 38l1-49l1 46l1-35l1 40l1-36l1 33l1-34l1 36l1-45l1 58l1-52l1 52l1-51l1 33l1-38l1 47l1-38l1 36l1-41l1 44l1-34l1 28l1-29l1 27l1-20l1 31l1-44l1 51l1-39l1 28l1-29l1 32l1-32l1 32l1-31l1 54l1-45l1 27l1-39l1 40l1-31l1 39l1-46l1 34l1-36l1 37l1-25l1 33l1-50l1 49l1-42l1 39l1-36l1 37l1-37l1 51l1-47l1 32l1-31l1 35l1-41l1 37l1-31l1 33l1-34l1 39l1-37l1 33l1-44l1 40l1-28l1 29l1-31l1 40l1-48l1 35l1-31l1 40l1-33l1 27l1-23l1 32l1-34l1 27l1-34l1 49l1-41l1 40l1-35l1 32l1-38l1 35l1-35l1 39l1-35l1 33l1-37l1 39l1-48l1 44l1-49l1 54l1-39l1 43l1-41l1 34l1-40l1 35l1-25l1 24l1-25l1 33l1-46l1 40l1-25l1 34l1-45l1 48l1-40l1 30l1-30l1 28l1-33l1 34l1-30l1 39l1-41l1 50l1-44l1 37l1-44l1 41l1-39l1 47l1-37l1 32l1-39l1 36l1-34l1 34l1-33l1 36l1-32l1 35l1-36l1 32l1-38l1 38l1-33l1 42l1-38l1 32l1-30l1 51l1-63l1 38l1-23l1 22l1-28l1 32l1-35l1 36l1-26l1 31l1-40l1 38l1-51l1 56l1-39l1 29l1-27l1 24l1-23l1 27l1-38l1 34l1-24l1 28l1-27l1 49l1-53l1 48l1-50l1 43l1-42l1 35l1-33l1 40l1-46l1 43l1-31l1 29l1-38l1 41l1-45l1 31l1-23l1 64l1-64l1 44l1-53l1 43l1-29l1 24l1-31l1 42l1-50l1 42l1-33l1 44l1-46l1 39l1-40l1 39l1-36l1 23l1-24l1 34l1-36l1 42l1-37l1 25l1-20l1 21l1-35l1 27l1-28l1 38l1-30l1 39l1-35l1 23l1-31l1 37l1-48l1 62l1-50l1 37l1-38l1 39l1-37l1 32l1-27l1 26l1-24l1 36l1-44l1 52l1-38l1 25l1-29l1 45l1-49l1 43l1-44l1 45l1-43l1 31l1-36l1 38l1-29l1 26l1-32l1 40l1-36l1 39l1-47l1 40l1-32l1 45l1-49l1 37l1-38l1 35l1-35l1 44l1-36l1 31l1-46l1 45l1-24l1 22l1-31l1 49l1-48l1 33l1-37l1 40l1-49l1 41l1-31l1 34l1-30l1 33l1-31l1 26l1-29l1 33l1-28l1 52l1-64l1 36l1-32l1 33l1-26l1 30l1-28l1 34l1-40l1 44l1-50l1 40l1-36l1 52l1-47l1 35l1-42l1 48l1-45l1 40l1-44l1 42l1-37l1 41l1-51l1 48l1-38l1 33l1-30l1 51l1-52l1 35l1-32l1 39l1-46l1 42l1-38l1 50l1-36l1 21l1-25l1 25l1-32l1 39l1-34l1 41l1-45l1 36l1-33l1 33l1-31l1 27l1-28l1 38l1-42l1 47l1-46l1 28l1-23l1 20l1-38l1 38l1-37l1 47l1-41l1 47l1-48l1 33l1-36l1 45l1-36l1 37l1-45l1 49l1-48l1 44l1-36l1 27l1-24l1 34l1-49l1 46l1-33l1 37l1-35l1 39l1-44l1 28l1-16l1 26l1-30l1 36l1-46l1 47l1-38l1 38l1-58l1 64l1-56l1 46l1-39l1 42l1-54l1 48l1-40l1 33l1-33l1 31l1-29l1 37l1-30l1 30l1-39l1 48l1-52l1 45l1-29l1 29l1-38l1 36l1-36l1 37l1-31l1 36l1-35l1 36l1-36l1 41l1-53l1 54l1-40l1 25l1-33l1 40l1-38l1 32l1-28l1 36l1-42l1 41l1-48l1 41l1-39l1 44l1-35l1 27l1-33l1 45l1-40l1 18l1-20l1 27l1-32l1 38l1-38l1 56l1-47l1 32l1-36l1 33l1-35l1 33l1-34l1 28l1-21l1 54l1-59l1 44l1-34l1 36l1-44l1 38l1-39l1 39l1-38l1 31l1-33l1 39l1-32l1 33l1-33l1 36l1-59l1 57l1-46l1 49l1-36l1 33l1-41l1 36l1-33l1 35l1-37l1 49l1-55l1 61l1-53l1 42l1-33l1 30l1-41l1 45l1-42l1 35l1-35l1 43l1-38l1 34l1-39l1 43l1-46l1 43l1-39l1 24l1-21l1 26l1-27l1 26l1-25l1 25l1-25l1 30l1-44l1 50l1-37l1 37l1-51l1 55l1-39l1 19l1-38l1 47l1-31l1 41l1-54l1 51l1-46l1 44l1-33l1 31l1-40l1 48l1-37l1 32l1-38l1 33l1-36l1 48l1-46l1 41l1-41l1 44l1-31l1 31l1-38l1 44l1-37l1 25l1-44l1 39l1-24l1 35l1-36l1 46l1-59l1 52l1-41l1 27l1-36l1 47l1-47l1 34l1-31l1 27l1-29l1 49l1-41l1 26l1-38l1 40l1-34l1 40l1-29l1 20l1-32l1 49l1-40l1 27l1-32l1 33l1-34l1 28l1-18l1 29l1-29l1 22l1-34l1 37l1-41l1 45l1-45l1 54l1-52l1 42l1-26l1 30l1-34l1 27l1-39l1 53l1-47l1 38l1-35l1 33l1-36l1 27l1-31l1 29l1-24l1 29l1-32l1 42l1-37l1 29l1-36l1 51l1-42l1 36l1-36l1 49l1-58l1 39l1-38l1 38l1-43l1 36l1-37l1 35l1-35l1 43l1-37l1 37l1-36l1 24l1-27l1 34l1-31l1 45l1-35l1 29l1-42l1 41l1-39l1 32l1-31l1 43l1-38l1 40l1-43l1 43l1-36l1 33l1-40l1 44l1-44l1 44l1-39l1 24l1-24l1 33l1-36l1 31l1-38l1 37l1-40l1 54l1-43l1 24l1-32l1 34l1-27l1 30l1-30l1 34l1-33l1 31l1-26l1 32l1-46l1 42l1-36l1 46l1-38l1 37l1-31l1 29l1-35l1 39l1-45l1 36l1-25l1 39l1-51l1 37l1-25l1 42l1-55l1 41l1-47l1 44l1-27l1 35l1-32l1 32l1-49l1 44l1-32l1 34l1-29l1 31l1-34l1 31l1-38l1 45l1-41l1 36l1-44l1 43l1-40l1 37l1-39l1 46l1-41l1 28l1-35l1 43l1-36l1 48l1-47l1 36l1-37l1 40l1-54l1 55l1-41l1 38l1-56l1 57l1-36l1 24l1-31l1 39l1-38l1 33l1-29l1 29l1-34l1 33l1-29l1 35l1-29l1 31l1-40l1 42l1-41l1 43l1-54l1 51l1-44l1 38l1-26l1 25l1-27l1 31l1-40l1 33l1-22l1 23l1-36l1 42l1-41l1 49l1-48l1 42l1-44l1 46l1-35l1 37l1-40l1 37l1-37l1 33l1-33l1 22l1-33l1 51l1-36l1 44l1-52l1 37l1-30l1 44l1-39l1 38l1-36l1 23l1-31l1 42l1-40l1 39l1-25l1 16l1-23l1 41l1-43l1 36l1-37l1 32l1-37l1 56l1-48l1 22l1-23l1 23l1-32l1 50l1-49l1 45l1-42l1 35l1-40l1 38l1-40l1 40l1-31l1 26l1-28l1 39l1-32l1 32l1-43l1 48l1-43l1 30l1-41l1 50l1-36l1 29l1-32l1 38l1-51l1 52l1-38l1 32l1-41l1 31l1-12l1 21l1-38l1 43l1-36l1 44l1-51l1 43l1-37l1 28l1-18l1 35l1-38l1 21l1-33l1 52l1-42l1 40l1-53l1 46l1-34l1 34l1-39l1 44l1-48l1 44l1-29l1 29l1-40l1 44l1-51l1 42l1-32l1 30l1-34l1 41l1-36l1 42l1-34l1 18l1-28l1 42l1-40l1 36l1-38l1 38l1-32l1 37l1-39l1 37l1-38l1 41l1-45l1 38l1-44l1 54l1-53l1 44l1-44l1 48l1-48l1 36l1-42l1 38l1-31l1 48l1-39l1 31l1-39l1 40l1-35l1 23l1-24l1 29l1-29l1 36l1-39l1 35l1-39l1 39l1-34l1 24l1-21l1 24l1-29l1 34l1-41l1 49l1-44l1 41l1-23l1 35l1-57l1 42l1-28l1 32l1-41l1 51l1-51l1 50l1-41l1 42l1-58l1 59l1-37l1 29l1-28l1 21l1-29l1 39l1-37l1 33l1-30l1 20l1-25l1 29l1-34l1 42l1-37l1 25l1-22l1 27l1-46l1 41l1-32l1 42l1-31l1 29l1-38l1 41l1-44l1 39l1-30l1 38l1-41l1 37l1-47l1 42l1-40l1 47l1-32l1 33l1-24l1 29l1-48l1 46l1-42l1 38l1-34l1 39l1-38l1 36l1-44l1 36l1-34l1 33l1-33l1 33l1-28l1 30l1-45l1 48l1-39l1 30l1-32l1 39l1-50l1 53l1-45l1 47l1-31l1 22l1-39l1 46l1-43l1 44l1-47l1 45l1-31l1 32l1-37l1 43l1-43l1 36l1-41l1 33l1-36l1 48l1-38l1 37l1-40l1 40l1-46l1 34l1-35l1 40l1-35l1 39l1-51l1 31l1-14l1 36l1-52l1 47l1-50l1 51l1-30l1 27l1-33l1 37l1-39l1 36l1-28l1 29l1-28l1 30l1-30l1 29l1-27l1 24l1-35l1 34l1-39l1 52l1-47l1 40l1-44l1 43l1-44l1 36l1-36l1 44l1-32l1 31l1-41l1 32l1-33l1 39l1-40l1 43l1-43l1 40l1-21l1 28l1-37l1 49l1-52l1 43l1-32l1 23l1-27l1 48l1-44l1 35l1-39l1 31l1-36l1 46l1-42l1 40l1-46l1 34l1-32l1 44l1-42l1 37l1-49l1 49l1-34l1 41l1-61l1 49l1-31l1 37l1-44l1 39l1-31l1 44l1-56l1 48l1-30l1 23l1-34l1 45l1-39l1 40l1-55l1 52l1-39l1 40l1-39l1 36l1-40l1 38l1-38l1 38l1-39l1 50l1-45l1 31l1-37l1 47l1-41l1 22l1-26l1 30l1-28l1 35l1-33l1 29l1-38l1 40l1-35l1 27l1-24l1 25l1-31l1 43l1-45l1 37l1-39l1 50l1-52l1 39l1-33l1 40l1-50l1 43l1-23l1 20l1-33l1 45l1-40l1 31l1-34l1 47l1-60l1 43l1-30l1 40l1-36l1 37l1-37l1 35l1-46l1 45l1-34l1 37l1-35l1 25l1-35l1 48l1-45l1 37l1-26l1 29l1-35l1 32l1-32l1 26l1-27l1 29l1-28l1 38l1-30l1 36l1-39l1 39l1-42l1 35l1-30l1 48l1-49l1 40l1-35l1 18l1-49l1 60l1-35l1 40l1-43l1 38l1-32l1 40l1-58l1 48l1-34l1 26l1-39l1 47l1-30l1 35l1-34l1 32l1-53l1 49l1-35l1 29l1-28l1 39l1-35l1 50l1-59l1 47l1-47l1 41l1-49l1 44l1-37l1 41l1-40l1 33l1-27l1 43l1-42l1 28l1-40l1 47l1-48l1 44l1-21l1 21l1-36l1 43l1-38l1 38l1-37l1 32l1-34l1 36l1-43l1 47l1-51l1 49l1-41l1 51l1-54l1 43l1-47l1 46l1-41l1 49l1-38l1 28l1-27l1 28l1-34l1 36l1-42l1 54l1-43l1 28l1-33l1 42l1-42l1 41l1-39l1 40l1-44l1 44l1-40l1 33l1-34l1 29l1-20l1 23l1-38l1 40l1-30l1 31l1-42l1 49l1-48l1 52l1-45l1 30l1-34l1 41l1-36l1 43l1-35l1 24l1-26l1 37l1-45l1 44l1-35l1 31l1-38l1 40l1-38l1 34l1-38l1 41l1-45l1 46l1-36l1 30l1-28l1 31l1-32l1 23l1-36l1 50l1-35l1 27l1-28l1 46l1-51l1 41l1-48l1 51l1-35l1 29l1-38l1 42l1-41l1 36l1-37l1 47l1-37l1 30l1-44l1 37l1-37l1 40l1-32l1 33l1-47l1 43l1-40l1 40l1-29l1 27l1-33l1 42l1-48l1 40l1-37l1 35l1-52l1 54l1-30l1 26l1-31l1 24l1-33l1 41l1-25l1 32l1-42l1 48l1-42l1 29l1-34l1 43l1-40l1 47l1-55l1 40l1-30l1 33l1-29l1 43l1-58l1 43l1-38l1 48l1-46l1 49l1-59l1 57l1-43l1 39l1-58l1 59l1-41l1 38l1-38l1 29l1-30l1 37l1-45l1 36l1-29l1 33l1-28l1 29l1-33l1 37l1-31l1 38l1-36l1 30l1-30l1 31l1-43l1 41l1-35l1 29l1-31l1 37l1-37l1 39l1-25l1 20l1-44l1 54l1-34l1 32l1-42l1 33l1-26l1 36l1-33l1 32l1-48l1 41l1-41l1 49l1-46l1 41l1-37l1 29l1-18l1 41l1-42l1 30l1-38l1 41l1-35l1 22l1-25l1 34l1-44l1 49l1-43l1 42l1-45l1 36l1-32l1 29l1-31l1 34l1-43l1 54l1-49l1 37l1-38l1 40l1-37l1 35l1-36l1 36l1-28l1 22l1-28l1 39l1-37l1 36l1-44l1 36l1-42l1 48l1-38l1 30l1-29l1 45l1-54l1 49l1-53l1 53l1-37l1 39l1-32l1 31l1-40l1 39l1-45l1 51l1-55l1 49l1-41l1 34l1-35l1 43l1-41l1 46l1-39l1 22l1-30l1 40l1-38l1 30l1-19l1 35l1-47l1 39l1-38l1 34l1-32l1 33l1-35l1 37l1-39l1 37l1-39l1 44l1-40l1 38l1-38l1 43l1-37l1 44l1-54l1 46l1-41l1 42l1-34l1 45l1-49l1 28l1-31l1 38l1-45l1 50l1-52l1 48l1-35l1 37l1-24l1 36l1-47l1 28l1-27l1 44l1-75l1 65l1-27l1 36l1-47l1 37l1-46l1 46l1-29l1 30l1-46l1 37l1-24l1 20l1-32l1 41l1-38l1 33l1-33l1 40l1-35l1 26l1-35l1 44l1-33l1 28l1-33l1 36l1-48l1 58l1-61l1 60l1-46l1 38l1-36l1 36l1-39l1 32l1-32l1 43l1-49l1 54l1-50l1 33l1-34l1 42l1-51l1 48l1-40l1 40l1-43l1 47l1-38l1 41l1-40l1 25l1-22l1 31l1-39l1 33l1-38l1 45l1-36l1 36l1-43l1 47l1-42l1 34l1-38l1 49l1-62l1 56l1-40l1 38l1-30l1 35l1-42l1 31l1-30l1 35l1-30l1 33l1-50l1 43l1-36l1 42l1-43l1 39l1-29l1 42l1-49l1 36l1-34l1 36l1-34l1 36l1-36l1 40l1-44l1 37l1-33l1 28l1-30l1 39l1-38l1 36l1-37l1 38l1-32l1 29l1-33l1 39l1-42l1 40l1-28l1 24l1-35l1 41l1-38l1 41l1-40l1 42l1-41l1 42l1-39l1 39l1-34l1 29l1-32l1 38l1-45l1 30l1-22l1 39l1-41l1 35l1-37l1 37l1-36l1 44l1-50l1 48l1-43l1 29l1-25l1 20l1-25l1 29l1-27l1 23l1-21l1 35l1-43l1 37l1-29l1 24l1-34l1 40l1-32l1 37l1-44l1 37l1-36l1 34l1-31l1 36l1-36l1 38l1-44l1 38l1-27l1 22l1-22l1 32l1-43l1 32l1-29l1 38l1-57l1 59l1-43l1 30l1-38l1 60l1-61l1 55l1-44l1 34l1-34l1 41l1-48l1 44l1-34l1 21l1-25l1 28l1-31l1 41l1-33l1 37l1-42l1 37l1-37l1 46l1-45l1 44l1-44l1 33l1-29l1 37l1-35l1 31l1-45l1 49l1-49l1 50l1-37l1 31l1-31l1 29l1-30l1 39l1-44l1 43l1-46l1 37l1-33l1 32l1-21l1 27l1-50l1 53l1-37l1 36l1-34l1 27l1-35l1 47l1-37l1 24l1-24l1 37l1-34l1 23l1-36l1 59l1-61l1 43l1-30l1 20l1-39l1 49l1-38l1 46l1-40l1 36l1-39l1 40l1-43l1 39l1-48l1 49l1-32l1 29l1-38l1 36l1-28l1 30l1-40l1 30l1-28l1 48l1-46l1 26l1-38l1 39l1-37l1 41l1-27l1 35l1-43l1 51l1-36l1 31l1-42l1 45l1-41l1 36l1-43l1 39l1-30l1 34l1-37l1 41l1-36l1 30l1-30l1 29l1-32l1 42l1-45l1 33l1-33l1 25l1-26l1 31l1-37l1 36l1-27l1 40l1-37l1 36l1-31l1 33l1-37l1 42l1-44l1 33l1-41l1 52l1-44l1 35l1-34l1 33l1-31l1 29l1-34l1 52l1-47l1 35l1-33l1 29l1-30l1 38l1-31l1 30l1-36l1 39l1-35l1 34l1-39l1 42l1-38l1 25l1-34l1 29l1-23l1 24l1-36l1 43l1-42l1 44l1-36l1 32l1-41l1 34l1-51l1 57l1-39l1 42l1-39l1 26l1-31l1 34l1-30l1 33l1-40l1 45l1-47l1 43l1-27l1 30l1-31l1 31l1-37l1 43l1-41l1 29l1-31l1 27l1-22l1 29l1-29l1 33l1-37l1 26l1-21l1 34l1-53l1 56l1-48l1 41l1-34l1 39l1-34l1 21l1-33l1 34l1-25l1 27l1-26l1 39l1-42l1 34l1-40l1 38l1-33l1 34l1-34l1 37l1-36l1 40l1-41l1 29l1-36l1 55l1-51l1 30l1-18l1 23l1-39l1 36l1-24l1 34l1-34l1 23l1-23l1 31l1-38l1 46l1-43l1 45l1-42l1 29l1-29l1 36l1-29l1 27l1-27l1 25l1-32l1 37l1-42l1 44l1-40l1 38l1-38l1 32l1-37l1 49l1-47l1 46l1-38l1 30l1-34l1 37l1-36l1 34l1-32l1 32l1-35l1 32l1-36l1 37l1-29l1 24l1-37l1 44l1-35l1 39l1-44l1 41l1-36l1 38l1-41l1 32l1-34l1 37l1-46l1 36l1-17l1 17l1-27l1 28l1-20l1 30l1-48l1 58l1-41l1 26l1-40l1 56l1-44l1 34l1-39l1 42l1-46l1 46l1-42l1 28l1-28l1 35l1-40l1 31l1-37l1 43l1-43l1 36l1-26l1 37l1-42l1 36l1-34l1 36l1-33l1 38l1-41l1 26l1-24l1 43l1-43l1 30l1-29l1 67l1-57l1 27l1-24l1 24l1-36l1 32l1-29l1 31l1-21l1 28l1-29l1 24l1-37l1 44l1-42l1 32l1-26l1 35l1-36l1 41l1-42l1 44l1-49l1 43l1-45l1 47l1-45l1 36l1-31l1 34l1-30l1 25l1-38l1 50l1-33l1 32l1-39l1 37l1-40l1 40l1-39l1 29l1-21l1 40l1-36l1 28l1-37l1 42l1-40l1 42l1-45l1 37l1-46l1 48l1-32l1 21l1-37l1 43l1-40l1 45l1-41l1 50l1-42l1 21l1-26l1 36l1-53l1 57l1-58l1 61l1-54l1 54l1-44l1 31l1-46l1 45l1-41l1 47l1-42l1 34l1-25l1 23l1-43l1 38l1-33l1 40l1-38l1 47l1-39l1 35l1-39l1 37l1-34l1 34l1-39l1 27l1-23l1 35l1-53l1 46l1-29l1 45l1-51l1 32l1-28l1 22l1-22l1 27l1-28l1 23l1-31l1 44l1-48l1 35l1-30l1 35l1-28l1 37l1-38l1 32l1-44l1 49l1-46l1 40l1-31l1 53l1-48l1 40l1-41l1 38l1-43l1 34l1-26l1 31l1-21l1 28l1-37l1 36l1-42l1 44l1-39l1 32l1-28l1 34l1-35l1 35l1-33l1 32l1-40l1 44l1-38l1 35l1-35l1 39l1-60l1 62l1-49l1 36l1-35l1 33l1-30l1 29l1-29l1 44l1-38l1 33l1-41l1 41l1-47l1 47l1-30l1 32l1-41l1 49l1-49l1 47l1-48l1 52l1-42l1 28l1-32l1 29l1-29l1 29l1-35l1 40l1-43l1 43l1-43l1 36l1-33l1 43l1-48l1 39l1-22l1 35l1-48l1 40l1-36l1 27l1-27l1 42l1-44l1 45l1-42l1 44l1-57l1 51l1-43l1 25l1-17l1 26l1-33l1 37l1-40l1 33l1-30l1 31l1-42l1 30l1-18l1 33l1-36l1 36l1-35l1 25l1-35l1 47l1-40l1 33l1-36l1 36l1-31l1 41l1-52l1 41l1-24l1 29l1-34l1 42l1-45l1 41l1-36l1 43l1-49l1 44l1-36l1 35l1-31l1 30l1-31l1 31l1-32l1 29l1-25l1 31l1-38l1 39l1-41l1 37l1-36l1 35l1-35l1 49l1-42l1 22l1-28l1 41l1-31l1 28l1-34l1 30l1-27l1 31l1-36l1 36l1-45l1 48l1-41l1 39l1-46l1 53l1-38l1 30l1-38l1 40l1-32l1 34l1-36l1 36l1-36l1 40l1-42l1 46l1-46l1 29l1-46l1 53l1-37l1 47l1-68l1 56l1-44l1 48l1-42l1 40l1-42l1 34l1-39l1 57l1-47l1 35l1-47l1 41l1-37l1 35l1-33l1 36l1-46l1 42l1-24l1 30l1-40l1 35l1-33l1 39l1-47l1 36l1-37l1 37l1-29l1 33l1-34l1 40l1-45l1 43l1-34l1 30l1-37l1 36l1-25l1 24l1-33l1 43l1-43l1 35l1-32l1 41l1-47l1 50l1-52l1 41l1-27l1 31l1-30l1 32l1-47l1 38l1-25l1 33l1-35l1 31l1-38l1 44l1-39l1 41l1-27l1 30l1-35l1 36l1-39l1 51l1-54l1 40l1-35l1 29l1-34l1 40l1-32l1 31l1-44l1 52l1-50l1 37l1-36l1 46l1-44l1 33l1-39l1 48l1-44l1 31l1-30l1 26l1-20l1 38l1-49l1 41l1-42l1 40l1-41l1 37l1-32l1 32l1-32l1 43l1-39l1 24l1-28l1 36l1-41l1 34l1-40l1 40l1-30l1 33l1-44l1 45l1-33l1 31l1-39l1 52l1-50l1 36l1-31l1 37l1-36l1 32l1-38l1 42l1-33l1 25l1-23l1 34l1-39l1 34l1-33l1 34l1-28l1 29l1-33l1 29l1-32l1 52l1-46l1 42l1-40l1 36l1-35l1 31l1-33l1 33l1-48l1 41l1-24l1 26l1-38l1 37l1-29l1 36l1-31l1 23l1-32l1 30l1-40l1 47l1-45l1 49l1-40l1 39l1-39l1 32l1-34l1 31l1-30l1 32l1-39l1 46l1-43l1 48l1-42l1 25l1-23l1 29l1-30l1 27l1-35l1 46l1-43l1 32l1-33l1 31l1-36l1 37l1-30l1 48l1-48l1 29l1-23l1 33l1-32l1 24l1-27l1 32l1-33l1 31l1-36"/>
<path class="ln" stroke="#B9B0D5" d="M610 388l1 354l1 196l1 101l1 103l1 47l1 70l1 27l1 54l1 10l1 34l1-5l1 33l1-2l1 24l1-5l1 28l1 3l1 33l1-3l1 35l1-3l1 30l1-7l1 36l1-16l1 35l1-21l1 32l1-20l1 30l1-26l1 31l1-26l1 36l1-36l1 37l1-28l1 25l1-29l1 37l1-33l1 33l1-22l1 36l1-40l1 28l1-26l1 33l1-32l1 33l1-36l1 34l1-24l1 28l1-23l1 26l1-29l1 30l1-29l1 35l1-24l1 20l1-20l1 21l1-29l1 37l1-39l1 40l1-33l1 30l1-29l1 31l1-38l1 30l1-35l1 43l1-37l1 33l1-26l1 22l1-22l1 15l1-24l1 40l1-32l1 25l1-27l1 28l1-31l1 31l1-32l1 26l1-20l1 27l1-36l1 35l1-29l1 34l1-30l1 27l1-33l1 32l1-38l1 54l1-41l1 25l1-37l1 46l1-32l1 34l1-41l1 29l1-37l1 42l1-26l1 23l1-27l1 25l1-26l1 22l1-22l1 24l1-23l1 26l1-23l1 19l1-27l1 29l1-17l1 22l1-29l1 28l1-32l1 27l1-32l1 37l1-33l1 30l1-34l1 33l1-29l1 36l1-31l1 28l1-43l1 30l1-24l1 41l1-30l1 21l1-36l1 35l1-26l1 35l1-32l1 22l1-20l1 27l1-36l1 37l1-31l1 24l1-27l1 32l1-25l1 19l1-26l1 33l1-28l1 24l1-21l1 33l1-39l1 29l1-26l1 34l1-29l1 22l1-26l1 28l1-30l1 36l1-32l1 30l1-29l1 33l1-44l1 37l1-24l1 15l1-23l1 26l1-23l1 25l1-21l1 23l1-22l1 32l1-42l1 27l1-22l1 34l1-40l1 38l1-39l1 39l1-27l1 25l1-34l1 31l1-27l1 30l1-27l1 29l1-33l1 37l1-39l1 33l1-23l1 30l1-30l1 27l1-35l1 26l1-15l1 29l1-32l1 24l1-33l1 29l1-27l1 27l1-35l1 40l1-21l1 20l1-25l1 34l1-32l1 28l1-24l1 22l1-31l1 24l1-21l1 25l1-26l1 35l1-38l1 46l1-41l1 22l1-27l1 26l1-31l1 33l1-26l1 25l1-28l1 35l1-41l1 30l1-20l1 22l1-28l1 31l1-30l1 26l1-27l1 36l1-52l1 55l1-42l1 22l1-24l1 33l1-33l1 37l1-30l1 20l1-20l1 24l1-29l1 27l1-19l1 23l1-25l1 19l1-27l1 39l1-33l1 27l1-33l1 28l1-33l1 39l1-35l1 32l1-33l1 38l1-40l1 30l1-24l1 34l1-46l1 46l1-34l1 28l1-27l1 33l1-31l1 27l1-35l1 29l1-23l1 33l1-39l1 36l1-26l1 27l1-25l1 20l1-24l1 30l1-23l1 27l1-26l1 19l1-16l1 19l1-25l1 24l1-30l1 40l1-34l1 34l1-41l1 31l1-27l1 30l1-26l1 34l1-35l1 34l1-42l1 36l1-23l1 22l1-28l1 41l1-39l1 37l1-36l1 35l1-43l1 28l1-19l1 30l1-40l1 30l1-29l1 35l1-41l1 34l1-22l1 22l1-19l1 26l1-25l1 19l1-19l1 27l1-27l1 30l1-31l1 33l1-43l1 39l1-39l1 35l1-25l1 23l1-33l1 29l1-21l1 23l1-40l1 34l1-24l1 19l1-28l1 38l1-40l1 48l1-39l1 28l1-29l1 23l1-20l1 30l1-27l1 23l1-33l1 42l1-38l1 29l1-28l1 24l1-26l1 32l1-24l1 26l1-32l1 34l1-44l1 39l1-32l1 33l1-25l1 21l1-26l1 37l1-38l1 36l1-35l1 32l1-31l1 36l1-31l1 32l1-26l1 22l1-30l1 38l1-36l1 30l1-28l1 31l1-29l1 23l1-33l1 28l1-30l1 35l1-28l1 32l1-33l1 36l1-33l1 32l1-46l1 40l1-25l1 29l1-22l1 26l1-33l1 40l1-34l1 17l1-23l1 26l1-27l1 27l1-33l1 42l1-35l1 28l1-32l1 26l1-29l1 41l1-40l1 35l1-39l1 35l1-41l1 36l1-29l1 35l1-30l1 35l1-32l1 28l1-35l1 33l1-37l1 40l1-39l1 36l1-21l1 20l1-22l1 24l1-30l1 25l1-38l1 40l1-27l1 32l1-35l1 28l1-40l1 37l1-29l1 27l1-26l1 24l1-33l1 39l1-31l1 33l1-26l1 27l1-44l1 46l1-31l1 25l1-26l1 22l1-31l1 41l1-31l1 26l1-33l1 35l1-31l1 29l1-39l1 34l1-16l1 26l1-30l1 25l1-39l1 42l1-28l1 29l1-22l1 26l1-23l1 29l1-34l1 26l1-21l1 25l1-25l1 22l1-28l1 40l1-33l1 26l1-31l1 34l1-22l1 20l1-34l1 33l1-25l1 17l1-23l1 26l1-27l1 32l1-32l1 26l1-26l1 30l1-20l1 28l1-32l1 33l1-36l1 34l1-37l1 40l1-36l1 31l1-32l1 28l1-36l1 39l1-32l1 37l1-36l1 28l1-29l1 22l1-21l1 21l1-26l1 30l1-29l1 30l1-30l1 21l1-22l1 23l1-24l1 38l1-35l1 23l1-23l1 33l1-38l1 35l1-39l1 28l1-15l1 20l1-35l1 30l1-24l1 29l1-29l1 27l1-24l1 22l1-20l1 27l1-23l1 12l1-20l1 28l1-35l1 29l1-24l1 36l1-39l1 34l1-32l1 30l1-27l1 27l1-32l1 37l1-41l1 38l1-36l1 29l1-32l1 41l1-36l1 27l1-27l1 35l1-28l1 26l1-35l1 35l1-26l1 24l1-31l1 28l1-27l1 34l1-31l1 28l1-31l1 24l1-28l1 40l1-25l1 28l1-28l1 21l1-29l1 39l1-39l1 37l1-34l1 30l1-29l1 31l1-25l1 21l1-30l1 33l1-33l1 30l1-34l1 26l1-33l1 43l1-36l1 36l1-41l1 37l1-33l1 35l1-38l1 38l1-26l1 31l1-35l1 29l1-31l1 25l1-25l1 31l1-34l1 39l1-34l1 33l1-31l1 25l1-23l1 22l1-21l1 26l1-22l1 26l1-28l1 29l1-36l1 29l1-27l1 28l1-26l1 34l1-42l1 38l1-35l1 29l1-29l1 34l1-34l1 32l1-31l1 27l1-31l1 28l1-20l1 29l1-35l1 38l1-37l1 31l1-34l1 39l1-44l1 40l1-32l1 31l1-30l1 27l1-32l1 31l1-30l1 27l1-16l1 21l1-29l1 34l1-38l1 29l1-24l1 30l1-34l1 28l1-21l1 15l1-21l1 43l1-43l1 32l1-30l1 24l1-23l1 30l1-32l1 31l1-22l1 19l1-28l1 35l1-28l1 26l1-28l1 28l1-23l1 19l1-29l1 37l1-34l1 28l1-23l1 23l1-23l1 35l1-35l1 27l1-31l1 35l1-32l1 31l1-24l1 27l1-32l1 34l1-45l1 36l1-23l1 24l1-30l1 35l1-26l1 20l1-33l1 34l1-29l1 33l1-33l1 25l1-26l1 26l1-22l1 21l1-31l1 36l1-31l1 29l1-24l1 25l1-25l1 27l1-37l1 34l1-23l1 19l1-34l1 37l1-26l1 24l1-25l1 28l1-29l1 25l1-23l1 27l1-28l1 31l1-29l1 28l1-31l1 33l1-36l1 27l1-33l1 38l1-47l1 46l1-28l1 23l1-26l1 35l1-35l1 25l1-27l1 29l1-27l1 30l1-32l1 24l1-22l1 26l1-27l1 27l1-25l1 26l1-25l1 30l1-26l1 30l1-37l1 30l1-29l1 32l1-24l1 19l1-28l1 30l1-26l1 25l1-29l1 34l1-30l1 32l1-32l1 29l1-24l1 28l1-29l1 28l1-33l1 39l1-37l1 37l1-38l1 27l1-30l1 37l1-33l1 33l1-37l1 25l1-21l1 32l1-35l1 29l1-34l1 27l1-26l1 35l1-31l1 24l1-23l1 27l1-17l1 15l1-28l1 33l1-26l1 30l1-30l1 22l1-22l1 22l1-24l1 28l1-31l1 30l1-27l1 27l1-37l1 29l1-25l1 27l1-45l1 41l1-28l1 27l1-29l1 35l1-24l1 19l1-24l1 32l1-26l1 21l1-26l1 25l1-22l1 24l1-22l1 25l1-31l1 33l1-26l1 24l1-32l1 39l1-33l1 31l1-30l1 22l1-25l1 32l1-34l1 36l1-28l1 32l1-32l1 25l1-33l1 30l1-29l1 29l1-28l1 31l1-34l1 31l1-28l1 20l1-20l1 27l1-16l1 22l1-29l1 33l1-28l1 27l1-31l1 41l1-39l1 38l1-43l1 26l1-32l1 40l1-32l1 33l1-23l1 28l1-32l1 26l1-32l1 26l1-27l1 34l1-38l1 41l1-31l1 20l1-24l1 27l1-27l1 22l1-22l1 23l1-25l1 28l1-33l1 27l1-23l1 30l1-30l1 29l1-28l1 33l1-38l1 32l1-25l1 24l1-27l1 41l1-40l1 24l1-34l1 32l1-26l1 23l1-26l1 35l1-38l1 29l1-25l1 21l1-19l1 30l1-40l1 33l1-27l1 27l1-27l1 32l1-30l1 26l1-31l1 37l1-28l1 28l1-28l1 28l1-38l1 44l1-29l1 28l1-36l1 25l1-24l1 26l1-28l1 31l1-35l1 37l1-26l1 19l1-24l1 37l1-45l1 41l1-36l1 27l1-29l1 41l1-34l1 25l1-19l1 27l1-29l1 31l1-26l1 21l1-33l1 33l1-29l1 25l1-19l1 21l1-21l1 14l1-16l1 26l1-26l1 23l1-29l1 23l1-18l1 28l1-33l1 33l1-29l1 32l1-38l1 27l1-27l1 30l1-30l1 24l1-16l1 25l1-27l1 37l1-44l1 33l1-27l1 24l1-29l1 27l1-33l1 32l1-20l1 18l1-23l1 30l1-31l1 29l1-34l1 29l1-23l1 26l1-27l1 31l1-29l1 28l1-35l1 36l1-28l1 24l1-36l1 41l1-26l1 25l1-31l1 38l1-46l1 39l1-37l1 39l1-32l1 35l1-38l1 49l1-39l1 37l1-40l1 27l1-32l1 38l1-33l1 30l1-36l1 35l1-37l1 24l1-28l1 43l1-34l1 34l1-39l1 36l1-35l1 31l1-23l1 29l1-40l1 33l1-23l1 35l1-36l1 35l1-37l1 20l1-21l1 27l1-27l1 41l1-35l1 21l1-18l1 23l1-29l1 30l1-20l1 20l1-27l1 26l1-25l1 25l1-32l1 33l1-34l1 28l1-30l1 34l1-28l1 31l1-29l1 27l1-22l1 16l1-26l1 33l1-33l1 42l1-34l1 38l1-43l1 30l1-26l1 28l1-27l1 24l1-30l1 30l1-33l1 25l1-21l1 26l1-27l1 37l1-33l1 28l1-35l1 30l1-26l1 27l1-33l1 26l1-16l1 21l1-20l1 28l1-35l1 20l1-20l1 28l1-37l1 36l1-29l1 32l1-33l1 25l1-12l1 24l1-28l1 26l1-26l1 24l1-25l1 23l1-30l1 32l1-24l1 27l1-29l1 30l1-32l1 29l1-33l1 29l1-23l1 24l1-40l1 41l1-33l1 35l1-33l1 29l1-28l1 27l1-28l1 37l1-39l1 27l1-22l1 29l1-27l1 35l1-32l1 35l1-39l1 25l1-36l1 36l1-27l1 28l1-26l1 37l1-30l1 23l1-34l1 35l1-31l1 33l1-35l1 23l1-13l1 27l1-26l1 24l1-24l1 26l1-40l1 36l1-27l1 25l1-29l1 38l1-39l1 29l1-26l1 22l1-28l1 37l1-42l1 31l1-21l1 23l1-20l1 29l1-30l1 21l1-20l1 28l1-28l1 25l1-32l1 24l1-28l1 34l1-31l1 26l1-18l1 18l1-23l1 25l1-26l1 28l1-34l1 40l1-35l1 48l1-36l1 20l1-27l1 32l1-27l1 22l1-23l1 24l1-31l1 29l1-26l1 33l1-34l1 20l1-25l1 27l1-25l1 24l1-29l1 30l1-35l1 39l1-32l1 27l1-30l1 27l1-22l1 34l1-41l1 30l1-23l1 25l1-25l1 46l1-42l1 25l1-23l1 27l1-24l1 26l1-35l1 47l1-43l1 25l1-30l1 34l1-33l1 30l1-26l1 30l1-33l1 39l1-40l1 28l1-28l1 34l1-25l1 25l1-35l1 30l1-30l1 32l1-32l1 31l1-19l1 21l1-33l1 39l1-35l1 28l1-25l1 17l1-17l1 28l1-35l1 31l1-25l1 40l1-38l1 33l1-37l1 27l1-25l1 33l1-35l1 24l1-19l1 25l1-35l1 31l1-25l1 25l1-21l1 24l1-21l1 26l1-30l1 31l1-29l1 25l1-21l1 24l1-38l1 43l1-29l1 21l1-24l1 17l1-24l1 27l1-25l1 26l1-26l1 26l1-24l1 30l1-33l1 29l1-27l1 32l1-44l1 34l1-21l1 21l1-27l1 29l1-32l1 31l1-35l1 33l1-36l1 40l1-29l1 23l1-31l1 39l1-41l1 38l1-23l1 20l1-27l1 29l1-33l1 26l1-18l1 20l1-26l1 31l1-37l1 36l1-31l1 35l1-32l1 24l1-24l1 30l1-40l1 36l1-30l1 38l1-32l1 27l1-30l1 22l1-17l1 20l1-28l1 32l1-32l1 35l1-43l1 43l1-40l1 33l1-26l1 28l1-36l1 37l1-30l1 27l1-26l1 37l1-29l1 24l1-35l1 35l1-28l1 31l1-30l1 36l1-32l1 27l1-19l1 28l1-37l1 35l1-32l1 37l1-37l1 26l1-23l1 32l1-37l1 34l1-38l1 33l1-21l1 26l1-37l1 25l1-24l1 39l1-40l1 37l1-29l1 32l1-35l1 32l1-31l1 21l1-28l1 30l1-27l1 26l1-25l1 32l1-30l1 29l1-31l1 20l1-23l1 19l1-18l1 26l1-30l1 25l1-29l1 29l1-29l1 35l1-32l1 31l1-30l1 22l1-30l1 31l1-30l1 30l1-27l1 33l1-25l1 19l1-21l1 23l1-22l1 30l1-29l1 36l1-38l1 34l1-22l1 27l1-38l1 37l1-33l1 24l1-30l1 34l1-31l1 27l1-25l1 37l1-38l1 24l1-16l1 22l1-24l1 20l1-16l1 36l1-40l1 20l1-21l1 26l1-28l1 26l1-30l1 37l1-34l1 25l1-25l1 27l1-30l1 38l1-35l1 35l1-35l1 25l1-31l1 26l1-25l1 24l1-21l1 22l1-27l1 31l1-30l1 29l1-40l1 42l1-26l1 22l1-32l1 38l1-25l1 17l1-23l1 36l1-37l1 28l1-29l1 29l1-33l1 33l1-24l1 32l1-34l1 26l1-37l1 47l1-35l1 28l1-25l1 33l1-42l1 34l1-33l1 30l1-20l1 40l1-42l1 33l1-35l1 28l1-29l1 27l1-34l1 42l1-45l1 39l1-27l1 23l1-22l1 36l1-40l1 31l1-23l1 30l1-35l1 29l1-30l1 32l1-32l1 38l1-38l1 29l1-25l1 26l1-24l1 16l1-23l1 34l1-37l1 30l1-38l1 35l1-32l1 38l1-34l1 32l1-30l1 28l1-23l1 25l1-29l1 28l1-25l1 26l1-34l1 40l1-28l1 16l1-19l1 22l1-28l1 35l1-27l1 28l1-32l1 34l1-40l1 38l1-42l1 37l1-26l1 27l1-30l1 20l1-28l1 40l1-40l1 40l1-34l1 31l1-26l1 25l1-26l1 25l1-36l1 29l1-20l1 27l1-28l1 28l1-32l1 30l1-36l1 34l1-34l1 42l1-39l1 30l1-30l1 29l1-19l1 31l1-33l1 22l1-28l1 31l1-22l1 33l1-30l1 23l1-39l1 41l1-33l1 34l1-26l1 26l1-31l1 28l1-27l1 21l1-22l1 32l1-38l1 26l1-16l1 20l1-25l1 30l1-30l1 27l1-25l1 22l1-28l1 45l1-39l1 26l1-23l1 25l1-24l1 23l1-27l1 30l1-23l1 31l1-36l1 26l1-23l1 24l1-35l1 32l1-21l1 17l1-24l1 35l1-38l1 29l1-26l1 25l1-23l1 26l1-29l1 41l1-42l1 34l1-31l1 24l1-25l1 25l1-22l1 27l1-34l1 22l1-17l1 28l1-26l1 21l1-20l1 30l1-32l1 27l1-28l1 22l1-24l1 23l1-24l1 28l1-26l1 28l1-36l1 30l1-25l1 29l1-30l1 36l1-28l1 20l1-30l1 41l1-30l1 31l1-34l1 24l1-26l1 26l1-27l1 27l1-23l1 18l1-25l1 36l1-23l1 34l1-40l1 24l1-27l1 26l1-27l1 41l1-43l1 34l1-27l1 29l1-32l1 38l1-44l1 33l1-26l1 31l1-29l1 30l1-33l1 39l1-38l1 35l1-40l1 38l1-26l1 32l1-38l1 24l1-27l1 27l1-26l1 30l1-27l1 26l1-30l1 31l1-28l1 38l1-39l1 37l1-34l1 30l1-32l1 27l1-28l1 27l1-27l1 33l1-46l1 37l1-25l1 34l1-36l1 29l1-28l1 27l1-25l1 30l1-33l1 18l1-24l1 35l1-36l1 33l1-27l1 31l1-38l1 37l1-32l1 31l1-24l1 33l1-41l1 37l1-38l1 31l1-21l1 22l1-24l1 32l1-39l1 35l1-27l1 23l1-25l1 38l1-38l1 34l1-35l1 30l1-37l1 38l1-25l1 37l1-48l1 37l1-23l1 23l1-27l1 22l1-21l1 25l1-29l1 32l1-24l1 26l1-26l1 27l1-34l1 26l1-30l1 27l1-21l1 20l1-21l1 27l1-29l1 24l1-33l1 31l1-28l1 38l1-29l1 22l1-30l1 32l1-27l1 23l1-20l1 25l1-26l1 37l1-34l1 23l1-28l1 30l1-27l1 34l1-38l1 27l1-30l1 44l1-39l1 25l1-24l1 23l1-31l1 46l1-41l1 30l1-23l1 23l1-30l1 34l1-26l1 33l1-45l1 36l1-22l1 27l1-31l1 26l1-28l1 24l1-21l1 30l1-38l1 39l1-28l1 32l1-48l1 44l1-23l1 31l1-36l1 29l1-29l1 21l1-31l1 48l1-44l1 40l1-32l1 33l1-31l1 20l1-25l1 27l1-38l1 35l1-22l1 18l1-26l1 31l1-29l1 22l1-26l1 25l1-25l1 26l1-27l1 28l1-19l1 14l1-26l1 26l1-33l1 44l1-34l1 26l1-35l1 39l1-28l1 30l1-34l1 26l1-17l1 20l1-27l1 27l1-27l1 28l1-23l1 28l1-44l1 43l1-36l1 43l1-38l1 31l1-28l1 25l1-31l1 37l1-30l1 32l1-40l1 41l1-34l1 23l1-30l1 40l1-46l1 37l1-31l1 29l1-31l1 34l1-27l1 24l1-25l1 37l1-38l1 38l1-36l1 33l1-29l1 21l1-30l1 38l1-31l1 25l1-29l1 19l1-24l1 29l1-21l1 28l1-32l1 33l1-30l1 20l1-28l1 30l1-25l1 30l1-30l1 30l1-25l1 23l1-19l1 24l1-38l1 42l1-42l1 37l1-27l1 29l1-23l1 18l1-27l1 33l1-38l1 35l1-35l1 32l1-30l1 28l1-24l1 17l1-20l1 26l1-35l1 37l1-26l1 32l1-37l1 30l1-22l1 31l1-32l1 27l1-28l1 25l1-35l1 44l1-32l1 27l1-32l1 27l1-21l1 22l1-26l1 28l1-32l1 34l1-34l1 41l1-43l1 33l1-21l1 36l1-47l1 32l1-22l1 19l1-22l1 39l1-47l1 40l1-32l1 28l1-32l1 35l1-31l1 28l1-27l1 33l1-29l1 27l1-30l1 20l1-22l1 21l1-18l1 34l1-38l1 33l1-38l1 36l1-35l1 32l1-31l1 29l1-26l1 30l1-34l1 38l1-39l1 39l1-27l1 32l1-29l1 27l1-37l1 29l1-25l1 31l1-40l1 40l1-28l1 19l1-22l1 23l1-18l1 27l1-33l1 27l1-28l1 30l1-22l1 26l1-35l1 42l1-44l1 32l1-26l1 28l1-27l1 28l1-32l1 35l1-34l1 38l1-36l1 30l1-28l1 27l1-29l1 27l1-22l1 25l1-27l1 23l1-34l1 31l1-29l1 24l1-23l1 31l1-25l1 20l1-29l1 38l1-53l1 48l1-29l1 22l1-30l1 27l1-23l1 21l1-28l1 36l1-17l1 16l1-29l1 26l1-23l1 22l1-22l1 30l1-27l1 36l1-39l1 27l1-20l1 27l1-30l1 27l1-39l1 30l1-28l1 36l1-34l1 34l1-25l1 24l1-26l1 22l1-22l1 22l1-22l1 29l1-33l1 34l1-33l1 31l1-22l1 29l1-26l1 25l1-30l1 24l1-31l1 40l1-46l1 40l1-26l1 31l1-28l1 30l1-39l1 36l1-31l1 28l1-31l1 33l1-31l1 22l1-27l1 26l1-32l1 38l1-33l1 42l1-42l1 33l1-32l1 27l1-28l1 42l1-37l1 21l1-26l1 25l1-17l1 23l1-28l1 24l1-23l1 34l1-33l1 25l1-33l1 28l1-26l1 38l1-47l1 32l1-22l1 32l1-27l1 20l1-23l1 26l1-27l1 25l1-33l1 28l1-25l1 37l1-46l1 37l1-24l1 23l1-26l1 30l1-36l1 36l1-38l1 37l1-40l1 39l1-35l1 44l1-34l1 32l1-43l1 39l1-25l1 24l1-31l1 31l1-25l1 26l1-21l1 22l1-19l1 17l1-23l1 36l1-27l1 12l1-19l1 29l1-32l1 31l1-31l1 26l1-27l1 26l1-24l1 28l1-32l1 28l1-26l1 29l1-26l1 22l1-20l1 22l1-24l1 33l1-33l1 37l1-33l1 24l1-27l1 32l1-35l1 25l1-29l1 38l1-38l1 31l1-21l1 22l1-28l1 30l1-21l1 23l1-30l1 24l1-24l1 34l1-34l1 22l1-26l1 25l1-26l1 35l1-28l1 29l1-28l1 25l1-22l1 32l1-47l1 32l1-26l1 27l1-33l1 35l1-30l1 39l1-42l1 43l1-45l1 33l1-22l1 35l1-34l1 34l1-38l1 37l1-33l1 23l1-33l1 35l1-33l1 32l1-26l1 28l1-40l1 34l1-20l1 29l1-32l1 22l1-31l1 35l1-30l1 32l1-40l1 43l1-29l1 28l1-30l1 27l1-37l1 39l1-35l1 27l1-36l1 38l1-26l1 23l1-29l1 36l1-41l1 36l1-27l1 28l1-35l1 45l1-30l1 19l1-22l1 23l1-35l1 31l1-21l1 29l1-25l1 19l1-33l1 35l1-35l1 36l1-30l1 25l1-26l1 24l1-23l1 34l1-31l1 30l1-37l1 37l1-34l1 31l1-31l1 36l1-28l1 27l1-31l1 38l1-29l1 26l1-41l1 33l1-24l1 34l1-28l1 25l1-23l1 33l1-34l1 24l1-32l1 31l1-28l1 32l1-36l1 36l1-33l1 33l1-45l1 33l1-20l1 24l1-27l1 31l1-34l1 41l1-33l1 15l1-25l1 35l1-30l1 22l1-20l1 20l1-18l1 19l1-34l1 32l1-24l1 28l1-33l1 30l1-29l1 40l1-34l1 27l1-27l1 25l1-25l1 33l1-34l1 26l1-25l1 28l1-24l1 24l1-34l1 46l1-41l1 34l1-32l1 28l1-28l1 37l1-41l1 33l1-26l1 27l1-35l1 27l1-27l1 34l1-37l1 32l1-26l1 32l1-29l1 31l1-33l1 33l1-35l1 34l1-27l1 21l1-26l1 41l1-35l1 19l1-30l1 38l1-28l1 30l1-32l1 31l1-37l1 30l1-31l1 27l1-23l1 25l1-26l1 32l1-33l1 41l1-36l1 25l1-32l1 39l1-41l1 34l1-19l1 16l1-28l1 39l1-43l1 37l1-31l1 43"/>
<path class="ln" stroke="#E98B80" d="M610 408l1 130l1 215l1 140l1 127l1 75l1 91l1 27l1 50l1 9l1 40l1 13l1 35l1-4l1 29l1-17l1 32l1-19l1 29l1-28l1 36l1-24l1 23l1-17l1 31l1-24l1 31l1-26l1 32l1-29l1 38l1-27l1 25l1-26l1 36l1-26l1 30l1-23l1 29l1-24l1 36l1-35l1 35l1-39l1 37l1-25l1 27l1-28l1 33l1-30l1 31l1-32l1 37l1-30l1 30l1-36l1 30l1-26l1 25l1-27l1 46l1-43l1 38l1-27l1 34l1-33l1 37l1-35l1 25l1-31l1 45l1-39l1 33l1-27l1 22l1-29l1 28l1-25l1 29l1-30l1 32l1-32l1 29l1-26l1 30l1-42l1 54l1-47l1 39l1-35l1 33l1-33l1 43l1-42l1 36l1-44l1 48l1-38l1 34l1-39l1 44l1-27l1 33l1-37l1 23l1-34l1 41l1-39l1 46l1-38l1 48l1-44l1 29l1-30l1 26l1-31l1 37l1-29l1 31l1-31l1 37l1-53l1 43l1-32l1 39l1-40l1 36l1-29l1 35l1-35l1 38l1-27l1 34l1-38l1 28l1-27l1 26l1-27l1 29l1-25l1 29l1-29l1 33l1-36l1 30l1-31l1 38l1-39l1 32l1-24l1 34l1-43l1 34l1-33l1 38l1-34l1 38l1-34l1 36l1-37l1 32l1-18l1 18l1-40l1 36l1-32l1 34l1-23l1 28l1-35l1 37l1-30l1 36l1-40l1 21l1-19l1 22l1-30l1 46l1-40l1 26l1-24l1 25l1-31l1 35l1-30l1 41l1-42l1 30l1-35l1 51l1-54l1 45l1-33l1 40l1-37l1 29l1-35l1 41l1-28l1 42l1-39l1 29l1-25l1 20l1-23l1 39l1-47l1 38l1-33l1 35l1-28l1 23l1-23l1 28l1-28l1 27l1-33l1 29l1-39l1 33l1-24l1 29l1-20l1 23l1-36l1 32l1-27l1 32l1-22l1 25l1-36l1 38l1-33l1 31l1-27l1 26l1-38l1 43l1-30l1 29l1-36l1 34l1-28l1 30l1-28l1 36l1-38l1 30l1-30l1 40l1-37l1 27l1-25l1 25l1-22l1 31l1-28l1 20l1-23l1 23l1-30l1 40l1-36l1 42l1-33l1 27l1-21l1 21l1-36l1 38l1-28l1 30l1-47l1 47l1-34l1 32l1-23l1 18l1-45l1 39l1-33l1 41l1-23l1 30l1-32l1 33l1-33l1 36l1-35l1 32l1-41l1 31l1-31l1 44l1-38l1 39l1-36l1 43l1-32l1 22l1-35l1 46l1-39l1 43l1-36l1 25l1-42l1 34l1-40l1 47l1-23l1 18l1-23l1 28l1-31l1 31l1-38l1 48l1-44l1 33l1-27l1 38l1-39l1 30l1-32l1 31l1-31l1 35l1-37l1 36l1-43l1 47l1-47l1 39l1-27l1 32l1-45l1 47l1-37l1 30l1-36l1 35l1-24l1 29l1-33l1 34l1-46l1 42l1-27l1 31l1-31l1 28l1-31l1 32l1-37l1 40l1-48l1 45l1-38l1 40l1-30l1 37l1-37l1 26l1-27l1 27l1-33l1 30l1-24l1 26l1-36l1 34l1-25l1 22l1-18l1 33l1-38l1 39l1-40l1 38l1-30l1 34l1-44l1 41l1-32l1 29l1-34l1 35l1-27l1 30l1-31l1 29l1-33l1 27l1-37l1 34l1-28l1 50l1-45l1 23l1-25l1 28l1-29l1 23l1-29l1 31l1-42l1 41l1-27l1 35l1-35l1 29l1-33l1 37l1-39l1 33l1-36l1 46l1-34l1 21l1-24l1 26l1-26l1 22l1-27l1 45l1-39l1 33l1-33l1 29l1-30l1 32l1-38l1 43l1-33l1 30l1-32l1 33l1-26l1 17l1-26l1 28l1-30l1 35l1-31l1 31l1-30l1 26l1-36l1 34l1-33l1 34l1-35l1 34l1-37l1 52l1-50l1 44l1-42l1 49l1-49l1 39l1-36l1 29l1-34l1 34l1-23l1 25l1-35l1 44l1-33l1 26l1-32l1 37l1-41l1 33l1-21l1 33l1-42l1 36l1-29l1 27l1-29l1 30l1-24l1 28l1-38l1 37l1-33l1 38l1-31l1 29l1-31l1 19l1-26l1 43l1-37l1 20l1-21l1 25l1-28l1 28l1-29l1 27l1-27l1 35l1-42l1 39l1-34l1 39l1-38l1 34l1-35l1 24l1-41l1 45l1-27l1 32l1-30l1 28l1-42l1 32l1-26l1 37l1-30l1 23l1-24l1 26l1-29l1 27l1-26l1 30l1-33l1 32l1-30l1 33l1-38l1 42l1-26l1 17l1-19l1 27l1-28l1 23l1-28l1 41l1-38l1 25l1-26l1 18l1-24l1 41l1-45l1 37l1-26l1 23l1-34l1 42l1-33l1 28l1-33l1 41l1-28l1 24l1-37l1 37l1-26l1 27l1-37l1 32l1-25l1 37l1-40l1 24l1-26l1 36l1-29l1 29l1-42l1 36l1-46l1 55l1-44l1 41l1-44l1 37l1-27l1 29l1-26l1 25l1-32l1 51l1-46l1 28l1-36l1 33l1-22l1 27l1-41l1 47l1-47l1 39l1-32l1 23l1-22l1 26l1-25l1 26l1-33l1 43l1-51l1 43l1-33l1 35l1-38l1 34l1-36l1 41l1-26l1 33l1-39l1 27l1-25l1 29l1-35l1 36l1-33l1 38l1-41l1 37l1-33l1 33l1-33l1 43l1-36l1 31l1-26l1 21l1-22l1 24l1-36l1 31l1-32l1 45l1-41l1 22l1-25l1 38l1-35l1 42l1-45l1 37l1-38l1 43l1-31l1 28l1-29l1 33l1-28l1 22l1-30l1 23l1-23l1 35l1-34l1 26l1-25l1 31l1-32l1 38l1-31l1 33l1-38l1 44l1-43l1 17l1-24l1 27l1-23l1 30l1-26l1 29l1-31l1 35l1-37l1 32l1-37l1 28l1-20l1 24l1-23l1 26l1-34l1 33l1-33l1 35l1-27l1 25l1-24l1 32l1-40l1 36l1-31l1 36l1-36l1 34l1-30l1 26l1-32l1 29l1-28l1 23l1-18l1 20l1-24l1 29l1-32l1 32l1-30l1 37l1-40l1 51l1-50l1 37l1-32l1 28l1-33l1 43l1-48l1 42l1-41l1 38l1-33l1 27l1-31l1 40l1-37l1 36l1-46l1 39l1-30l1 33l1-31l1 34l1-33l1 30l1-33l1 35l1-36l1 44l1-31l1 30l1-40l1 31l1-29l1 35l1-37l1 35l1-41l1 32l1-27l1 31l1-29l1 24l1-18l1 33l1-41l1 33l1-39l1 38l1-38l1 31l1-22l1 34l1-38l1 33l1-28l1 34l1-42l1 42l1-42l1 42l1-37l1 31l1-35l1 26l1-18l1 18l1-29l1 36l1-28l1 33l1-35l1 29l1-24l1 27l1-32l1 41l1-40l1 30l1-37l1 30l1-23l1 23l1-26l1 29l1-34l1 35l1-30l1 40l1-40l1 32l1-23l1 27l1-28l1 26l1-30l1 28l1-32l1 36l1-32l1 24l1-19l1 35l1-31l1 25l1-31l1 35l1-41l1 49l1-40l1 29l1-30l1 23l1-22l1 27l1-29l1 37l1-41l1 32l1-37l1 42l1-38l1 32l1-37l1 33l1-16l1 13l1-25l1 31l1-32l1 35l1-31l1 33l1-33l1 30l1-37l1 40l1-34l1 35l1-38l1 30l1-25l1 31l1-39l1 44l1-42l1 35l1-29l1 27l1-24l1 34l1-42l1 28l1-20l1 24l1-37l1 44l1-30l1 26l1-33l1 36l1-34l1 31l1-33l1 30l1-26l1 34l1-42l1 35l1-28l1 27l1-31l1 35l1-30l1 28l1-38l1 40l1-36l1 38l1-31l1 26l1-36l1 43l1-38l1 31l1-22l1 23l1-35l1 31l1-30l1 34l1-40l1 39l1-32l1 27l1-39l1 38l1-33l1 28l1-35l1 38l1-22l1 13l1-26l1 33l1-31l1 34l1-38l1 34l1-29l1 24l1-30l1 36l1-33l1 29l1-38l1 40l1-33l1 31l1-44l1 50l1-43l1 29l1-25l1 25l1-20l1 28l1-35l1 34l1-25l1 23l1-37l1 32l1-39l1 36l1-31l1 33l1-39l1 47l1-36l1 26l1-26l1 29l1-35l1 32l1-29l1 30l1-28l1 34l1-38l1 32l1-23l1 27l1-38l1 44l1-41l1 40l1-42l1 37l1-34l1 34l1-29l1 23l1-42l1 55l1-38l1 34l1-36l1 34l1-30l1 37l1-35l1 39l1-47l1 37l1-33l1 34l1-39l1 42l1-34l1 28l1-29l1 32l1-33l1 39l1-31l1 26l1-24l1 22l1-24l1 41l1-49l1 32l1-23l1 28l1-34l1 27l1-28l1 29l1-34l1 27l1-30l1 31l1-22l1 25l1-30l1 32l1-26l1 32l1-36l1 34l1-30l1 23l1-27l1 30l1-31l1 34l1-48l1 52l1-48l1 40l1-21l1 19l1-25l1 25l1-28l1 27l1-28l1 40l1-44l1 43l1-35l1 35l1-40l1 37l1-37l1 44l1-38l1 31l1-32l1 34l1-36l1 33l1-31l1 30l1-43l1 48l1-46l1 41l1-39l1 44l1-39l1 29l1-21l1 26l1-30l1 34l1-35l1 37l1-34l1 34l1-38l1 25l1-28l1 41l1-43l1 36l1-33l1 38l1-42l1 45l1-32l1 36l1-32l1 20l1-30l1 31l1-30l1 33l1-31l1 28l1-28l1 27l1-32l1 35l1-30l1 44l1-51l1 29l1-32l1 39l1-41l1 41l1-37l1 30l1-26l1 35l1-36l1 29l1-26l1 24l1-25l1 27l1-27l1 35l1-40l1 32l1-27l1 35l1-47l1 43l1-30l1 37l1-41l1 30l1-22l1 23l1-26l1 26l1-37l1 29l1-32l1 40l1-34l1 32l1-27l1 29l1-35l1 37l1-36l1 36l1-22l1 22l1-31l1 37l1-33l1 21l1-25l1 35l1-38l1 32l1-33l1 37l1-32l1 22l1-30l1 33l1-29l1 27l1-28l1 30l1-34l1 37l1-31l1 29l1-27l1 21l1-22l1 29l1-28l1 34l1-34l1 42l1-39l1 31l1-33l1 39l1-34l1 30l1-35l1 35l1-43l1 36l1-31l1 33l1-28l1 30l1-24l1 29l1-42l1 35l1-36l1 50l1-37l1 34l1-37l1 32l1-32l1 33l1-31l1 33l1-36l1 27l1-18l1 21l1-27l1 21l1-18l1 23l1-32l1 32l1-32l1 39l1-25l1 24l1-40l1 39l1-27l1 22l1-24l1 26l1-28l1 24l1-31l1 38l1-26l1 25l1-28l1 25l1-24l1 25l1-35l1 41l1-39l1 37l1-34l1 26l1-21l1 25l1-35l1 45l1-41l1 32l1-30l1 43l1-48l1 36l1-28l1 29l1-35l1 41l1-29l1 22l1-37l1 40l1-37l1 37l1-35l1 33l1-33l1 28l1-24l1 28l1-28l1 35l1-43l1 31l1-42l1 49l1-31l1 28l1-40l1 33l1-25l1 24l1-33l1 31l1-30l1 38l1-43l1 52l1-54l1 34l1-23l1 30l1-28l1 36l1-36l1 33l1-33l1 31l1-36l1 36l1-34l1 33l1-22l1 30l1-28l1 17l1-37l1 41l1-34l1 37l1-30l1 26l1-30l1 39l1-42l1 29l1-26l1 30l1-26l1 34l1-34l1 27l1-40l1 44l1-40l1 32l1-25l1 28l1-39l1 38l1-21l1 26l1-26l1 23l1-33l1 39l1-51l1 45l1-36l1 41l1-43l1 49l1-45l1 40l1-35l1 35l1-35l1 36l1-36l1 38l1-41l1 24l1-19l1 23l1-20l1 19l1-35l1 36l1-24l1 27l1-33l1 32l1-27l1 33l1-52l1 43l1-24l1 35l1-29l1 31l1-36l1 27l1-31l1 39l1-40l1 30l1-22l1 29l1-31l1 32l1-28l1 34l1-33l1 31l1-34l1 34l1-31l1 26l1-28l1 34l1-29l1 23l1-39l1 42l1-22l1 31l1-37l1 29l1-30l1 33l1-34l1 33l1-33l1 37l1-45l1 43l1-37l1 29l1-30l1 32l1-32l1 36l1-34l1 26l1-32l1 31l1-26l1 27l1-34l1 35l1-31l1 35l1-43l1 45l1-41l1 33l1-30l1 41l1-35l1 29l1-40l1 37l1-31l1 32l1-32l1 46l1-41l1 25l1-42l1 46l1-42l1 31l1-21l1 35l1-43l1 27l1-27l1 37l1-33l1 42l1-43l1 32l1-35l1 30l1-39l1 29l1-30l1 37l1-36l1 38l1-33l1 25l1-26l1 35l1-30l1 32l1-36l1 32l1-30l1 44l1-41l1 21l1-36l1 41l1-31l1 39l1-23l1 21l1-24l1 35l1-41l1 30l1-24l1 24l1-22l1 24l1-36l1 39l1-31l1 28l1-30l1 28l1-18l1 27l1-25l1 21l1-27l1 41l1-41l1 35l1-28l1 28l1-30l1 35l1-42l1 37l1-25l1 28l1-40l1 34l1-34l1 36l1-28l1 20l1-21l1 28l1-27l1 25l1-26l1 40l1-46l1 39l1-33l1 32l1-36l1 25l1-21l1 14l1-21l1 29l1-29l1 31l1-37l1 28l1-26l1 33l1-40l1 34l1-17l1 18l1-24l1 27l1-42l1 49l1-36l1 28l1-26l1 29l1-25l1 20l1-27l1 41l1-42l1 37l1-44l1 41l1-39l1 43l1-37l1 37l1-43l1 39l1-28l1 32l1-28l1 21l1-40l1 39l1-22l1 27l1-34l1 29l1-35l1 32l1-28l1 41l1-33l1 22l1-25l1 33l1-42l1 42l1-32l1 32l1-43l1 33l1-18l1 24l1-33l1 43l1-32l1 12l1-26l1 40l1-33l1 35l1-37l1 31l1-22l1 30l1-47l1 36l1-25l1 34l1-35l1 34l1-29l1 38l1-48l1 38l1-26l1 31l1-37l1 39l1-39l1 35l1-28l1 23l1-28l1 46l1-38l1 29l1-31l1 37l1-43l1 32l1-29l1 38l1-35l1 30l1-33l1 25l1-20l1 27l1-32l1 29l1-34l1 38l1-24l1 28l1-38l1 31l1-31l1 36l1-34l1 30l1-27l1 22l1-35l1 39l1-39l1 40l1-32l1 24l1-28l1 36l1-36l1 31l1-35l1 41l1-38l1 34l1-26l1 29l1-38l1 39l1-38l1 31l1-32l1 42l1-39l1 30l1-32l1 29l1-29l1 33l1-30l1 36l1-37l1 28l1-22l1 27l1-30l1 30l1-34l1 32l1-22l1 26l1-39l1 35l1-26l1 32l1-34l1 33l1-33l1 38l1-38l1 32l1-27l1 30l1-31l1 26l1-31l1 31l1-32l1 47l1-63l1 46l1-38l1 54l1-47l1 41l1-55l1 50l1-35l1 32l1-32l1 34l1-38l1 37l1-35l1 28l1-23l1 26l1-27l1 25l1-34l1 42l1-37l1 36l1-33l1 29l1-29l1 38l1-40l1 40l1-41l1 24l1-24l1 39l1-41l1 31l1-32l1 33l1-36l1 33l1-33l1 33l1-33l1 40l1-35l1 30l1-32l1 38l1-31l1 23l1-30l1 42l1-45l1 24l1-23l1 35l1-34l1 31l1-34l1 34l1-34l1 29l1-24l1 45l1-47l1 30l1-30l1 22l1-21l1 34l1-30l1 24l1-21l1 22l1-39l1 47l1-33l1 30l1-29l1 27l1-26l1 32l1-24l1 23l1-20l1 26l1-31l1 24l1-23l1 21l1-25l1 30l1-31l1 37l1-42l1 35l1-29l1 25l1-28l1 31l1-30l1 36l1-34l1 31l1-37l1 46l1-51l1 43l1-35l1 42l1-32l1 24l1-35l1 32l1-24l1 26l1-36l1 42l1-44l1 42l1-39l1 44l1-44l1 41l1-35l1 26l1-26l1 25l1-36l1 36l1-20l1 27l1-28l1 23l1-31l1 34l1-31l1 33l1-33l1 27l1-32l1 38l1-38l1 29l1-36l1 42l1-32l1 25l1-25l1 21l1-16l1 26l1-53l1 51l1-37l1 34l1-24l1 20l1-23l1 30l1-33l1 31l1-27l1 35l1-37l1 35l1-44l1 37l1-31l1 33l1-31l1 29l1-35l1 28l1-20l1 34l1-53l1 46l1-34l1 41l1-38l1 24l1-34l1 48l1-31l1 24l1-33l1 41l1-56l1 45l1-28l1 26l1-28l1 34l1-34l1 35l1-36l1 33l1-25l1 30l1-43l1 44l1-32l1 29l1-38l1 36l1-43l1 47l1-36l1 38l1-39l1 39l1-32l1 32l1-31l1 33l1-37l1 40l1-38l1 33l1-32l1 31l1-27l1 24l1-20l1 29l1-37l1 40l1-38l1 31l1-32l1 44l1-47l1 48l1-37l1 34l1-43l1 35l1-31l1 30l1-28l1 34l1-32l1 28l1-33l1 35l1-30l1 30l1-47l1 47l1-25l1 34l1-41l1 33l1-39l1 38l1-24l1 34l1-42l1 43l1-48l1 38l1-23l1 29l1-32l1 34l1-40l1 39l1-26l1 23l1-26l1 31l1-32l1 24l1-22l1 25l1-29l1 31l1-31l1 35l1-36l1 36l1-39l1 30l1-27l1 29l1-31l1 33l1-28l1 31l1-33l1 32l1-30l1 37l1-49l1 27l1-21l1 41l1-47l1 34l1-25l1 33l1-36l1 26l1-23l1 28l1-37l1 40l1-32l1 24l1-31l1 36l1-31l1 27l1-35l1 36l1-32l1 36l1-36l1 39l1-35l1 40l1-42l1 41l1-41l1 30l1-26l1 32l1-36l1 32l1-32l1 32l1-31l1 36l1-38l1 31l1-28l1 33l1-23l1 17l1-21l1 36l1-42l1 40l1-55l1 48l1-25l1 21l1-33l1 41l1-36l1 39l1-37l1 31l1-34l1 43l1-38l1 26l1-26l1 34l1-40l1 40l1-50l1 48l1-40l1 31l1-30l1 29l1-26l1 28l1-35l1 33l1-24l1 31l1-33l1 36l1-50l1 41l1-28l1 32l1-35l1 39l1-33l1 22l1-28l1 35l1-33l1 32l1-35l1 29l1-30l1 33l1-29l1 38l1-41l1 41l1-30l1 26l1-43l1 38l1-33l1 42l1-40l1 39l1-33l1 33l1-36l1 30l1-31l1 30l1-23l1 30l1-34l1 31l1-29l1 29l1-32l1 29l1-35l1 36l1-33l1 37l1-36l1 32l1-27l1 33l1-36l1 37l1-32l1 31l1-29l1 21l1-25l1 26l1-27l1 31l1-35l1 37l1-31l1 27l1-33l1 40l1-35l1 34l1-30l1 38l1-44l1 30l1-28l1 28l1-31l1 32l1-30l1 34l1-38l1 35l1-37l1 35l1-36l1 44l1-45l1 36l1-38l1 45l1-37l1 44l1-41l1 30l1-32l1 39l1-43l1 40l1-38l1 34l1-38l1 27l1-29l1 40l1-34l1 36l1-33l1 30l1-34l1 34l1-33l1 30l1-27l1 29l1-37l1 35l1-37l1 43l1-42l1 36l1-32l1 37l1-34l1 32l1-42l1 26l1-17l1 31l1-35l1 29l1-34l1 30l1-26l1 30l1-30l1 28l1-20l1 29l1-37l1 35l1-28l1 30l1-35l1 38l1-34l1 39l1-53l1 42l1-33l1 42l1-51l1 41l1-36l1 29l1-50l1 55l1-36l1 38l1-26l1 26l1-24l1 35l1-31l1 28l1-33l1 30l1-33l1 36l1-38l1 37l1-47l1 46l1-43l1 42l1-37l1 30l1-29l1 39l1-35l1 41l1-46l1 41l1-42l1 34l1-28l1 38l1-40l1 32l1-32l1 25l1-33l1 37l1-40l1 42l1-40l1 38l1-23l1 32l1-39l1 24l1-24l1 36l1-43l1 42l1-37l1 29l1-28l1 32l1-34l1 28l1-24l1 21l1-23l1 36l1-39l1 40l1-38l1 33l1-26l1 17l1-19l1 31l1-33l1 51l1-46l1 24l1-37l1 37l1-28l1 25l1-27l1 29l1-25l1 19l1-22l1 26l1-27l1 29l1-31l1 24l1-24l1 32l1-32l1 38l1-41l1 42l1-37l1 31l1-32l1 32l1-29l1 28l1-36l1 45l1-57l1 45l1-20l1 31l1-40l1 32l1-40l1 34l1-29l1 36l1-30l1 38l1-32l1 17l1-26l1 41l1-45l1 38l1-27l1 37l1-38l1 31l1-32l1 34l1-40l1 29l1-19l1 25l1-26l1 26l1-29l1 29l1-28l1 26l1-30l1 34l1-37l1 37l1-28l1 33l1-38l1 23l1-25l1 29l1-30l1 21l1-29l1 39l1-48l1 39l1-27l1 31l1-46l1 43l1-25l1 26l1-35l1 42l1-27l1 21l1-19l1 19l1-19l1 22l1-42l1 47l1-33l1 24l1-32l1 34l1-31l1 36l1-32l1 32l1-34l1 51l1-57l1 35l1-32l1 36l1-42l1 52l1-42l1 33l1-25l1 25l1-30l1 31l1-30l1 23l1-33l1 36l1-46l1 39l1-30l1 37l1-28l1 25l1-34l1 31l1-30l1 30l1-29l1 27l1-22l1 30l1-34l1 36l1-34l1 31l1-33l1 30l1-27l1 28l1-30l1 40l1-39l1 37l1-31l1 21l1-26l1 26l1-31l1 41l1-27l1 29l1-32l1 26l1-46l1 48l1-28l1 26l1-26l1 27l1-26l1 30l1-47l1 44l1-36l1 30l1-27l1 29l1-37l1 40l1-32l1 28l1-34l1 35l1-27l1 29l1-32l1 32l1-28l1 28l1-32l1 38l1-29l1 31l1-33l1 25l1-26l1 29l1-28l1 29l1-40l1 35l1-30l1 29l1-30l1 28l1-26l1 34l1-38l1 33l1-30l1 34l1-29l1 31l1-48l1 41l1-30l1 35l1-28l1 28l1-39l1 38l1-32l1 35l1-30l1 27l1-32l1 30l1-29l1 32l1-31l1 37l1-44l1 45l1-36l1 30l1-37l1 36l1-33l1 29l1-25l1 22l1-29l1 32l1-23l1 28l1-29l1 24l1-38l1 48l1-37l1 28l1-36l1 45l1-34l1 28l1-35l1 33l1-25l1 36l1-48l1 44l1-31l1 28l1-33l1 30l1-16l1 30l1-36l1 22l1-34l1 44l1-31l1 28l1-33l1 27l1-38l1 43l1-24l1 22l1-31l1 27l1-32l1 34l1-33l1 27l1-19l1 35l1-35l1 22l1-21l1 29l1-39l1 35l1-31l1 38l1-34l1 29l1-38l1 44l1-40l1 30l1-32l1 29l1-34l1 30l1-30l1 35l1-33l1 44l1-41l1 30l1-38l1 42l1-39l1 41l1-36l1 41l1-40l1 28l1-25l1 31l1-29l1 27l1-32l1 38l1-35l1 36l1-35l1 32l1-34l1 32l1-36l1 38l1-35l1 40l1-39l1 41l1-41l1 35l1-37l1 43l1-36l1 35l1-46l1 51l1-40l1 38l1-36l1 28l1-34l1 31l1-38l1 40l1-30l1 33l1-34l1 33l1-28l1 25l1-36l1 32l1-22l1 21l1-21l1 22l1-24l1 37l1-29l1 26l1-35l1 31l1-25l1 29l1-33l1 32l1-32l1 29l1-30l1 29l1-29l1 24l1-28l1 31l1-28l1 34l1-46l1 49l1-38l1 31l1-28l1 28l1-28l1 29l1-28l1 25l1-35l1 42l1-32l1 32l1-35l1 25l1-34l1 37l1-35l1 37l1-26l1 24l1-30l1 33l1-29l1 32l1-38l1 34l1-38l1 42l1-38l1 38l1-26l1 23l1-30l1 31l1-21l1 25l1-29l1 30l1-32l1 34l1-36l1 34l1-34l1 35l1-26l1 18l1-28l1 28"/>
<path class="ln" stroke="#80C4B7" d="M611 456l1 547l1 407l1 158l1 43l1-12l1 31l1-12l1 29l1-31l1 37l1-32l1 28l1-30l1 33l1-18l1 32l1-23l1 23l1-37l1 41l1-31l1 27l1-31l1 26l1-16l1 21l1-27l1 39l1-34l1 27l1-33l1 42l1-33l1 24l1-29l1 38l1-43l1 53l1-34l1 32l1-37l1 33l1-48l1 55l1-34l1 27l1-30l1 28l1-38l1 44l1-39l1 39l1-33l1 24l1-26l1 30l1-30l1 37l1-42l1 37l1-38l1 41l1-37l1 32l1-24l1 28l1-34l1 36l1-27l1 26l1-30l1 30l1-36l1 31l1-43l1 43l1-23l1 36l1-38l1 37l1-37l1 27l1-28l1 33l1-34l1 32l1-24l1 22l1-20l1 27l1-38l1 37l1-30l1 26l1-35l1 39l1-31l1 23l1-28l1 26l1-18l1 15l1-22l1 33l1-30l1 32l1-43l1 39l1-29l1 32l1-53l1 59l1-36l1 42l1-43l1 31l1-30l1 36l1-40l1 35l1-53l1 52l1-37l1 37l1-40l1 41l1-34l1 32l1-39l1 34l1-22l1 27l1-28l1 25l1-25l1 34l1-45l1 42l1-37l1 39l1-33l1 28l1-28l1 33l1-28l1 21l1-24l1 32l1-34l1 35l1-46l1 38l1-25l1 38l1-43l1 36l1-29l1 25l1-29l1 37l1-40l1 26l1-35l1 42l1-38l1 45l1-37l1 30l1-46l1 44l1-38l1 33l1-24l1 31l1-39l1 40l1-35l1 29l1-33l1 34l1-28l1 23l1-39l1 36l1-27l1 40l1-32l1 28l1-33l1 38l1-31l1 39l1-44l1 44l1-42l1 35l1-31l1 29l1-25l1 20l1-30l1 33l1-23l1 29l1-36l1 37l1-41l1 29l1-21l1 24l1-25l1 51l1-50l1 33l1-39l1 28l1-20l1 30l1-51l1 44l1-33l1 42l1-35l1 29l1-33l1 29l1-26l1 29l1-23l1 33l1-36l1 27l1-29l1 26l1-31l1 46l1-39l1 29l1-34l1 36l1-39l1 43l1-46l1 42l1-35l1 34l1-32l1 31l1-29l1 35l1-37l1 36l1-36l1 32l1-25l1 24l1-32l1 25l1-34l1 37l1-29l1 36l1-35l1 33l1-32l1 38l1-34l1 29l1-25l1 17l1-22l1 29l1-38l1 38l1-32l1 28l1-32l1 40l1-39l1 36l1-30l1 29l1-28l1 37l1-37l1 32l1-39l1 35l1-26l1 28l1-26l1 24l1-28l1 35l1-45l1 39l1-36l1 38l1-37l1 40l1-34l1 36l1-34l1 31l1-39l1 37l1-37l1 37l1-36l1 36l1-40l1 40l1-37l1 44l1-38l1 31l1-39l1 48l1-39l1 34l1-38l1 32l1-34l1 33l1-38l1 40l1-25l1 34l1-39l1 35l1-35l1 29l1-33l1 32l1-37l1 38l1-18l1 29l1-33l1 28l1-40l1 41l1-32l1 38l1-47l1 33l1-27l1 39l1-53l1 48l1-36l1 19l1-28l1 46l1-42l1 42l1-52l1 49l1-43l1 36l1-28l1 27l1-27l1 34l1-38l1 28l1-25l1 27l1-35l1 33l1-19l1 25l1-35l1 32l1-37l1 46l1-39l1 30l1-36l1 38l1-29l1 28l1-37l1 47l1-37l1 39l1-34l1 34l1-28l1 25l1-33l1 32l1-29l1 32l1-35l1 33l1-33l1 35l1-35l1 28l1-27l1 35l1-43l1 39l1-39l1 41l1-46l1 47l1-46l1 32l1-33l1 38l1-39l1 46l1-43l1 32l1-25l1 30l1-40l1 44l1-45l1 38l1-26l1 34l1-32l1 22l1-34l1 43l1-46l1 45l1-30l1 34l1-29l1 27l1-39l1 41l1-38l1 40l1-38l1 34l1-38l1 55l1-55l1 33l1-29l1 34l1-38l1 34l1-35l1 33l1-21l1 30l1-38l1 28l1-22l1 35l1-45l1 31l1-34l1 33l1-27l1 27l1-17l1 15l1-19l1 25l1-22l1 26l1-42l1 40l1-34l1 34l1-30l1 30l1-31l1 28l1-21l1 25l1-30l1 35l1-29l1 29l1-28l1 35l1-39l1 35l1-43l1 33l1-27l1 47l1-58l1 40l1-33l1 33l1-30l1 42l1-46l1 43l1-50l1 45l1-36l1 33l1-36l1 46l1-45l1 31l1-43l1 48l1-36l1 26l1-31l1 38l1-30l1 25l1-25l1 25l1-39l1 45l1-36l1 29l1-25l1 27l1-33l1 32l1-20l1 27l1-32l1 23l1-24l1 38l1-35l1 29l1-35l1 42l1-53l1 52l1-35l1 17l1-22l1 42l1-43l1 42l1-32l1 23l1-27l1 38l1-41l1 33l1-38l1 48l1-34l1 32l1-45l1 37l1-31l1 27l1-34l1 41l1-24l1 24l1-33l1 31l1-24l1 30l1-44l1 44l1-37l1 28l1-35l1 44l1-34l1 43l1-51l1 35l1-26l1 28l1-31l1 29l1-27l1 27l1-29l1 26l1-34l1 39l1-39l1 42l1-30l1 34l1-48l1 43l1-38l1 37l1-46l1 45l1-39l1 38l1-33l1 35l1-36l1 33l1-28l1 33l1-44l1 49l1-39l1 32l1-28l1 27l1-32l1 33l1-40l1 41l1-30l1 36l1-28l1 24l1-23l1 19l1-24l1 23l1-28l1 33l1-36l1 44l1-39l1 36l1-39l1 37l1-27l1 28l1-38l1 31l1-22l1 29l1-27l1 21l1-31l1 34l1-41l1 38l1-28l1 27l1-31l1 36l1-39l1 41l1-34l1 35l1-49l1 43l1-23l1 26l1-28l1 32l1-38l1 30l1-42l1 41l1-31l1 26l1-25l1 29l1-25l1 32l1-39l1 37l1-29l1 25l1-26l1 30l1-30l1 32l1-39l1 39l1-34l1 36l1-48l1 41l1-40l1 41l1-37l1 38l1-31l1 27l1-37l1 31l1-21l1 27l1-34l1 32l1-27l1 26l1-31l1 30l1-39l1 45l1-32l1 28l1-34l1 39l1-31l1 27l1-34l1 39l1-44l1 45l1-29l1 23l1-18l1 27l1-30l1 37l1-44l1 31l1-44l1 49l1-39l1 38l1-38l1 43l1-37l1 23l1-29l1 26l1-24l1 23l1-24l1 25l1-28l1 28l1-19l1 27l1-32l1 37l1-51l1 41l1-34l1 46l1-41l1 46l1-41l1 30l1-27l1 30l1-34l1 31l1-32l1 27l1-19l1 25l1-23l1 20l1-23l1 18l1-21l1 33l1-43l1 41l1-38l1 46l1-37l1 43l1-42l1 27l1-39l1 44l1-47l1 44l1-32l1 23l1-26l1 37l1-41l1 32l1-27l1 32l1-28l1 35l1-36l1 28l1-30l1 24l1-22l1 23l1-31l1 31l1-24l1 32l1-35l1 33l1-36l1 38l1-45l1 45l1-52l1 44l1-32l1 32l1-24l1 35l1-33l1 27l1-35l1 27l1-21l1 28l1-27l1 23l1-24l1 28l1-39l1 37l1-30l1 44l1-49l1 43l1-51l1 50l1-47l1 43l1-35l1 26l1-21l1 29l1-41l1 45l1-36l1 31l1-28l1 34l1-37l1 30l1-28l1 41l1-42l1 39l1-40l1 34l1-43l1 43l1-35l1 37l1-38l1 31l1-17l1 26l1-34l1 37l1-32l1 21l1-30l1 29l1-20l1 32l1-33l1 47l1-53l1 38l1-33l1 27l1-31l1 34l1-37l1 43l1-43l1 32l1-21l1 17l1-18l1 23l1-31l1 23l1-23l1 33l1-37l1 37l1-46l1 38l1-27l1 28l1-35l1 34l1-37l1 34l1-34l1 26l1-27l1 30l1-30l1 35l1-23l1 27l1-24l1 27l1-31l1 34l1-39l1 48l1-45l1 43l1-56l1 40l1-28l1 42l1-36l1 34l1-35l1 38l1-40l1 36l1-28l1 35l1-46l1 37l1-35l1 35l1-28l1 27l1-35l1 41l1-39l1 34l1-37l1 34l1-33l1 32l1-36l1 30l1-22l1 29l1-26l1 27l1-31l1 30l1-25l1 39l1-41l1 36l1-32l1 24l1-29l1 38l1-33l1 29l1-31l1 33l1-35l1 32l1-29l1 35l1-38l1 35l1-27l1 18l1-28l1 33l1-29l1 28l1-30l1 34l1-36l1 34l1-37l1 32l1-30l1 33l1-31l1 26l1-36l1 37l1-32l1 28l1-36l1 34l1-34l1 34l1-28l1 37l1-35l1 26l1-30l1 30l1-34l1 45l1-45l1 37l1-37l1 40l1-33l1 28l1-28l1 40l1-37l1 31l1-32l1 48l1-51l1 36l1-30l1 42l1-44l1 38l1-37l1 45l1-42l1 29l1-34l1 45l1-36l1 27l1-38l1 37l1-29l1 33l1-31l1 41l1-41l1 29l1-27l1 36l1-36l1 27l1-22l1 29l1-23l1 33l1-43l1 37l1-38l1 41l1-32l1 27l1-41l1 39l1-32l1 25l1-28l1 34l1-42l1 30l1-30l1 37l1-29l1 29l1-29l1 28l1-36l1 35l1-36l1 44l1-43l1 39l1-30l1 30l1-43l1 38l1-34l1 38l1-39l1 35l1-32l1 23l1-25l1 39l1-44l1 36l1-32l1 36l1-33l1 26l1-35l1 35l1-28l1 27l1-36l1 43l1-38l1 20l1-21l1 33l1-33l1 39l1-31l1 28l1-39l1 41l1-34l1 40l1-35l1 24l1-28l1 30l1-32l1 42l1-43l1 40l1-36l1 28l1-36l1 49l1-42l1 31l1-20l1 20l1-27l1 28l1-29l1 30l1-23l1 25l1-25l1 22l1-36l1 52l1-50l1 34l1-25l1 33l1-38l1 32l1-33l1 28l1-38l1 36l1-21l1 27l1-35l1 34l1-32l1 39l1-33l1 21l1-29l1 39l1-35l1 36l1-45l1 44l1-35l1 31l1-40l1 51l1-41l1 30l1-31l1 33l1-34l1 43l1-37l1 32l1-40l1 43l1-46l1 44l1-31l1 27l1-38l1 38l1-36l1 33l1-34l1 46l1-48l1 42l1-38l1 38l1-35l1 30l1-31l1 35l1-35l1 32l1-31l1 32l1-27l1 33l1-27l1 29l1-30l1 27l1-37l1 29l1-22l1 24l1-29l1 33l1-34l1 25l1-31l1 39l1-47l1 47l1-44l1 46l1-31l1 34l1-41l1 32l1-33l1 38l1-33l1 34l1-35l1 26l1-23l1 31l1-23l1 16l1-23l1 25l1-47l1 51l1-37l1 35l1-37l1 39l1-39l1 39l1-35l1 23l1-16l1 27l1-33l1 35l1-37l1 40l1-35l1 34l1-43l1 32l1-30l1 42l1-34l1 22l1-29l1 29l1-24l1 32l1-34l1 35l1-45l1 55l1-42l1 27l1-27l1 16l1-28l1 41l1-44l1 34l1-28l1 36l1-32l1 26l1-34l1 40l1-32l1 33l1-37l1 48l1-48l1 40l1-43l1 46l1-27l1 19l1-24l1 26l1-33l1 29l1-38l1 43l1-30l1 36l1-35l1 44l1-45l1 35l1-42l1 37l1-31l1 35l1-44l1 45l1-32l1 36l1-33l1 30l1-41l1 36l1-26l1 38l1-50l1 49l1-44l1 34l1-33l1 31l1-35l1 45l1-43l1 33l1-28l1 27l1-27l1 32l1-47l1 46l1-28l1 36l1-56l1 47l1-33l1 39l1-49l1 46l1-42l1 36l1-37l1 34l1-29l1 40l1-42l1 30l1-34l1 39l1-26l1 33l1-36l1 31l1-29l1 23l1-30l1 33l1-37l1 34l1-28l1 24l1-27l1 38l1-47l1 42l1-33l1 29l1-52l1 52l1-31l1 37l1-40l1 33l1-37l1 40l1-41l1 35l1-27l1 27l1-28l1 27l1-20l1 32l1-29l1 19l1-26l1 25l1-23l1 31l1-24l1 28l1-38l1 30l1-19l1 25l1-40l1 41l1-26l1 29l1-40l1 39l1-41l1 44l1-43l1 47l1-39l1 33l1-27l1 21l1-29l1 35l1-31l1 29l1-31l1 41l1-46l1 36l1-26l1 28l1-27l1 25l1-29l1 27l1-42l1 43l1-28l1 30l1-28l1 34l1-38l1 36l1-38l1 36l1-30l1 26l1-27l1 35l1-41l1 42l1-33l1 26l1-24l1 22l1-27l1 30l1-29l1 34l1-34l1 36l1-43l1 39l1-35l1 27l1-33l1 36l1-36l1 42l1-43l1 40l1-37l1 43l1-44l1 31l1-41l1 40l1-29l1 26l1-32l1 45l1-46l1 30l1-40l1 50l1-39l1 39l1-36l1 29l1-33l1 33l1-30l1 40l1-44l1 46l1-44l1 39l1-41l1 35l1-30l1 28l1-47l1 67l1-45l1 26l1-43l1 46l1-35l1 34l1-35l1 26l1-28l1 39l1-33l1 37l1-34l1 34l1-37l1 42l1-32l1 21l1-31l1 33l1-33l1 32l1-30l1 36l1-42l1 33l1-36l1 41l1-32l1 44l1-44l1 35l1-32l1 25l1-34l1 51l1-41l1 40l1-36l1 32l1-39l1 32l1-43l1 42l1-22l1 20l1-22l1 40l1-44l1 33l1-34l1 44l1-44l1 36l1-29l1 28l1-33l1 38l1-41l1 36l1-26l1 26l1-35l1 37l1-38l1 39l1-34l1 27l1-26l1 39l1-50l1 45l1-35l1 27l1-35l1 37l1-31l1 33l1-32l1 31l1-31l1 30l1-33l1 35l1-34l1 40l1-43l1 32l1-36l1 31l1-30l1 31l1-31l1 33l1-29l1 31l1-36l1 32l1-26l1 37l1-43l1 37l1-45l1 41l1-26l1 36l1-48l1 34l1-18l1 14l1-25l1 38l1-45l1 45l1-35l1 27l1-27l1 33l1-34l1 30l1-36l1 42l1-34l1 38l1-38l1 37l1-43l1 34l1-24l1 31l1-37l1 24l1-20l1 33l1-29l1 19l1-19l1 29l1-32l1 23l1-18l1 26l1-31l1 28l1-33l1 33l1-40l1 42l1-27l1 38l1-43l1 26l1-21l1 24l1-31l1 37l1-27l1 19l1-25l1 28l1-36l1 40l1-35l1 26l1-27l1 27l1-26l1 22l1-20l1 27l1-33l1 28l1-35l1 37l1-39l1 41l1-35l1 31l1-27l1 32l1-52l1 61l1-40l1 25l1-28l1 35l1-39l1 32l1-36l1 34l1-23l1 41l1-42l1 41l1-37l1 26l1-32l1 54l1-53l1 43l1-46l1 46l1-48l1 59l1-45l1 38l1-47l1 31l1-22l1 29l1-32l1 30l1-30l1 45l1-50l1 39l1-34l1 32l1-34l1 31l1-27l1 32l1-27l1 27l1-36l1 40l1-56l1 47l1-26l1 22l1-26l1 30l1-31l1 30l1-39l1 35l1-30l1 35l1-24l1 30l1-24l1 7l1-21l1 28l1-23l1 19l1-29l1 33l1-30l1 38l1-37l1 40l1-38l1 35l1-36l1 32l1-31l1 40l1-43l1 31l1-24l1 34l1-44l1 46l1-34l1 19l1-23l1 33l1-42l1 34l1-33l1 35l1-27l1 30l1-34l1 36l1-42l1 41l1-33l1 32l1-22l1 16l1-27l1 30l1-25l1 33l1-29l1 21l1-30l1 30l1-25l1 33l1-34l1 30l1-40l1 40l1-35l1 45l1-46l1 34l1-24l1 34l1-45l1 32l1-31l1 30l1-22l1 22l1-20l1 36l1-52l1 45l1-32l1 32l1-26l1 21l1-36l1 34l1-24l1 24l1-26l1 30l1-33l1 33l1-40l1 49l1-41l1 27l1-24l1 27l1-34l1 32l1-27l1 20l1-21l1 27l1-40l1 46l1-28l1 23l1-22l1 22l1-23l1 33l1-32l1 38l1-41l1 31l1-43l1 41l1-33l1 25l1-29l1 31l1-23l1 22l1-24l1 30l1-33l1 30l1-29l1 30l1-23l1 25l1-35l1 29l1-30l1 40l1-36l1 22l1-31l1 48l1-40l1 35l1-25l1 33l1-34l1 21l1-27l1 22l1-22l1 33l1-36l1 25l1-31l1 44l1-39l1 33l1-32l1 44l1-36l1 25l1-29l1 35l1-52l1 52l1-34l1 27l1-33l1 49l1-50l1 41l1-36l1 32l1-32l1 27l1-28l1 31l1-27l1 27l1-45l1 44l1-31l1 32l1-30l1 33l1-34l1 40l1-34l1 37l1-38l1 29l1-41l1 44l1-34l1 32l1-40l1 43l1-29l1 26l1-38l1 39l1-41l1 39l1-30l1 34l1-37l1 28l1-24l1 28l1-31l1 38l1-43l1 44l1-41l1 37l1-37l1 31l1-31l1 34l1-28l1 35l1-37l1 27l1-27l1 39l1-41l1 42l1-43l1 33l1-28l1 24l1-34l1 41l1-48l1 43l1-36l1 44l1-39l1 28l1-26l1 31l1-38l1 36l1-49l1 39l1-21l1 41l1-42l1 31l1-41l1 35l1-24l1 29l1-30l1 42l1-47l1 45l1-51l1 37l1-30l1 29l1-39l1 43l1-49l1 50l1-30l1 27l1-27l1 24l1-21l1 34l1-41l1 35l1-31l1 34l1-33l1 32l1-35l1 32l1-29l1 35l1-37l1 33l1-30l1 33l1-37l1 39l1-46l1 47l1-36l1 36l1-31l1 30l1-30l1 33l1-41l1 37l1-25l1 31l1-33l1 28l1-45l1 42l1-33l1 33l1-42l1 44l1-31l1 30l1-27l1 33l1-39l1 25l1-25l1 25l1-15l1 27l1-31l1 31l1-41l1 34l1-27l1 31l1-33l1 27l1-41l1 53l1-41l1 33l1-40l1 44l1-36l1 36l1-36l1 34l1-40l1 48l1-42l1 32l1-40l1 42l1-43l1 48l1-41l1 25l1-26l1 29l1-29l1 27l1-29l1 34l1-48l1 47l1-38l1 44l1-45l1 39l1-38l1 24l1-17l1 20l1-21l1 24l1-37l1 38l1-32l1 31l1-33l1 37l1-35l1 29l1-21l1 26l1-27l1 29l1-27l1 30l1-38l1 44l1-27l1 21l1-33l1 33l1-28l1 29l1-48l1 46l1-30l1 31l1-25l1 28l1-40l1 42l1-31l1 33l1-33l1 33l1-31l1 32l1-37l1 34l1-24l1 27l1-31l1 33l1-35l1 25l1-32l1 38l1-26l1 24l1-30l1 42l1-38l1 32l1-42l1 40l1-33l1 33l1-26l1 24l1-45l1 50l1-27l1 26l1-30l1 28l1-38l1 35l1-24l1 19l1-22l1 27l1-23l1 25l1-33l1 23l1-23l1 32l1-28l1 22l1-22l1 22l1-24l1 29l1-25l1 29l1-33l1 39l1-34l1 30l1-45l1 37l1-36l1 34l1-51l1 47l1-31l1 34l1-36l1 39l1-36l1 41l1-41l1 37l1-33l1 27l1-34l1 41l1-36l1 38l1-47l1 37l1-39l1 42l1-34l1 38l1-30l1 19l1-26l1 38l1-32l1 23l1-27l1 32l1-28l1 29l1-38l1 41l1-46l1 38l1-29l1 40l1-33l1 28l1-30l1 40l1-38l1 27l1-36l1 40l1-41l1 41l1-39l1 35l1-30l1 31l1-21l1 31l1-38l1 32l1-30l1 27l1-26l1 36l1-44l1 39l1-43l1 35l1-44l1 43l1-35l1 38l1-37l1 35l1-35l1 35l1-35l1 42l1-27l1 19l1-33l1 43l1-40l1 39l1-37l1 38l1-30l1 30l1-43l1 40l1-36l1 31l1-29l1 41l1-38l1 34l1-34l1 35l1-41l1 31l1-31l1 36l1-37l1 34l1-28l1 25l1-31l1 29l1-32l1 47l1-37l1 23l1-23l1 30l1-38l1 36l1-27l1 33l1-47l1 34l1-21l1 29l1-39l1 36l1-41l1 42l1-43l1 35l1-32l1 38l1-31l1 42l1-45l1 29l1-30l1 38l1-32l1 30l1-40l1 42l1-46l1 41l1-37l1 45l1-54l1 48l1-35l1 44l1-41l1 30l1-32l1 39l1-36l1 23l1-18l1 32l1-51l1 50l1-46l1 45l1-38l1 28l1-33l1 41l1-33l1 28l1-26l1 33l1-32l1 27l1-27l1 34l1-26l1 17l1-18l1 26l1-32l1 32l1-35l1 29l1-24l1 38l1-48l1 43l1-41l1 41l1-35l1 51l1-53l1 44l1-35l1 32l1-40l1 43l1-41l1 46l1-40l1 27l1-31l1 26l1-30l1 28l1-21l1 22l1-29l1 28l1-33l1 34l1-31l1 32l1-31l1 28l1-35l1 41l1-35l1 28l1-28l1 39l1-48l1 56l1-51l1 38l1-37l1 43l1-45l1 51l1-48l1 33l1-36l1 39l1-33l1 28l1-37l1 31l1-22l1 30l1-27l1 30l1-35l1 39l1-36l1 22l1-26l1 39l1-45l1 33l1-26l1 22l1-18l1 21l1-33l1 42l1-40l1 41l1-44l1 43l1-30l1 30l1-40l1 32l1-30l1 31l1-27l1 34l1-42l1 46l1-44l1 25l1-21l1 47l1-49l1 36l1-27l1 42l1-45l1 40l1-35l1 33l1-45l1 39l1-36l1 35l1-33l1 39l1-36l1 45l1-45l1 30l1-34l1 44l1-42l1 30l1-22l1 21l1-50l1 47l1-38l1 45l1-26l1 16l1-29l1 42l1-30l1 29l1-35l1 32l1-29l1 30l1-45l1 39l1-28l1 40l1-43l1 32l1-34l1 35l1-31l1 30l1-35l1 35l1-25l1 36l1-49l1 46l1-37l1 34l1-30l1 27l1-24l1 23l1-25l1 36l1-38l1 35l1-43l1 34l1-25l1 39l1-50l1 45l1-41l1 28l1-24l1 31l1-29l1 42l1-40l1 30l1-27l1 24l1-24l1 24l1-42l1 38l1-33l1 44l1-39l1 30l1-31l1 26l1-24l1 26l1-33l1 37l1-29l1 29l1-27l1 43l1-40l1 29l1-30l1 27l1-24l1 18l1-28l1 44l1-42l1 32l1-26l1 41l1-48l1 33l1-29l1 36l1-29l1 32l1-43l1 28l1-24l1 26l1-38l1 37l1-28l1 26l1-30l1 36l1-32l1 30l1-49l1 53l1-27l1 24l1-29l1 36l1-34l1 44l1-51l1 39l1-27l1 39l1-49l1 34l1-27l1 36l1-35l1 31l1-36l1 31l1-32l1 39l1-37l1 30l1-31l1 33l1-30l1 38l1-44l1 42l1-32l1 31l1-38l1 27l1-21l1 26l1-28l1 26l1-22l1 23l1-21l1 17l1-15l1 24l1-38l1 35l1-29l1 44l1-49l1 32l1-28l1 30l1-36l1 36l1-32l1 42l1-45l1 46l1-45l1 28l1-30l1 30l1-34l1 42l1-40l1 31l1-27l1 35l1-29l1 27l1-32l1 36l1-34l1 23l1-22l1 31l1-29l1 30l1-38l1 37l1-33l1 30l1-32l1 32l1-36l1 43l1-39l1 25l1-24l1 24l1-29l1 38l1-39l1 39l1-37l1 29l1-27l1 36l1-43l1 36l1-29l1 32l1-33l1 23l1-30l1 37l1-42l1 45l1-34l1 34l1-27l1 24l1-36l1 40l1-39l1 41l1-36l1 26l1-18l1 26l1-39l1 34l1-32l1 39l1-32l1 33l1-34l1 41l1-40l1 23l1-29l1 35l1-27l1 28l1-34l1 33l1-31l1 32l1-32l1 37l1-45l1 34l1-33l1 40l1-33l1 37l1-31l1 32l1-38l1 32l1-26l1 27l1-27l1 38l1-49l1 40l1-28l1 32l1-35l1 42l1-42l1 35l1-37l1 25l1-25l1 34l1-41l1 33l1-31l1 50l1-46l1 33l1-28l1 28l1-37l1 38l1-32l1 27l1-43l1 50l1-38l1 32l1-27l1 32l1-34l1 31l1-35l1 45l1-45"/>
</g>
<rect x="282.0" y="14.0" width="1412.7" height="1151.8" fill="none" stroke="#0a0a0a" stroke-width="4"/>
<text class="tk" x="304.5" y="1232" text-anchor="middle">0</text>
<text class="tk" x="532.3" y="1232" text-anchor="middle">5,000</text>
<text class="tk" x="760.2" y="1232" text-anchor="middle">10,000</text>
<text class="tk" x="988.0" y="1232" text-anchor="middle">15,000</text>
<text class="tk" x="1215.8" y="1232" text-anchor="middle">20,000</text>
<text class="tk" x="1443.7" y="1232" text-anchor="middle">25,000</text>
<text class="tk" x="1671.5" y="1232" text-anchor="middle">30,000</text>
<text class="tk" x="257" y="131.9" text-anchor="end">60,000</text>
<text class="tk" x="257" y="335.1" text-anchor="end">30,000</text>
<text class="tk" x="257" y="538.4" text-anchor="end">0</text>
<text class="tk" x="257" y="741.6" text-anchor="end">-30,000</text>
<text class="tk" x="257" y="944.9" text-anchor="end">-60,000</text>
<text class="tk" x="257" y="1148.1" text-anchor="end">-90,000</text>
<text class="ti" x="988" y="1329" text-anchor="middle">Time / ps</text>
<text class="ti" transform="translate(67 589) rotate(-90)" text-anchor="middle">Energy / kJ·mol<tspan font-size="40" dy="-24">-1</tspan></text>
<line x1="1069.5" y1="65.0" x2="1180.5" y2="65.0" stroke="#C883AD" stroke-width="5" stroke-linecap="round"/>
<text class="lg" x="1191" y="79.5">70°C10Mpa</text><text class="cm" transform="translate(1434 76.4) scale(1.35 1)">，</text><text class="lg" x="1484.5" y="79.5" style="font-size:49px">100 PVE</text>
<line x1="1069.5" y1="127.1" x2="1180.5" y2="127.1" stroke="#F5AF64" stroke-width="5" stroke-linecap="round"/>
<text class="lg" x="1191" y="141.6">80°C10Mpa</text><text class="cm" transform="translate(1434 138.5) scale(1.35 1)">，</text><text class="lg" x="1484.5" y="141.6" style="font-size:49px">100 PVE</text>
<line x1="1069.5" y1="189.2" x2="1180.5" y2="189.2" stroke="#7DAAD2" stroke-width="5" stroke-linecap="round"/>
<text class="lg" x="1191" y="203.7">70°C15Mpa</text><text class="cm" transform="translate(1434 200.6) scale(1.35 1)">，</text><text class="lg" x="1484.5" y="203.7" style="font-size:49px">100 PVE</text>
<line x1="1069.5" y1="251.3" x2="1180.5" y2="251.3" stroke="#BEB4DA" stroke-width="5" stroke-linecap="round"/>
<text class="lg" x="1191" y="265.8">70°C10Mpa</text><text class="cm" transform="translate(1434 262.7) scale(1.35 1)">，</text><text class="lg" x="1484.5" y="265.8" style="font-size:49px">50 PVE</text>
<line x1="1069.5" y1="313.4" x2="1180.5" y2="313.4" stroke="#F08C82" stroke-width="5" stroke-linecap="round"/>
<text class="lg" x="1191" y="327.9">80°C10Mpa</text><text class="cm" transform="translate(1434 324.8) scale(1.35 1)">，</text><text class="lg" x="1484.5" y="327.9" style="font-size:49px">50 PVE</text>
<line x1="1069.5" y1="375.5" x2="1180.5" y2="375.5" stroke="#82CDBC" stroke-width="5" stroke-linecap="round"/>
<text class="lg" x="1191" y="390.0">70°C15Mpa</text><text class="cm" transform="translate(1434 386.9) scale(1.35 1)">，</text><text class="lg" x="1484.5" y="390.0" style="font-size:49px">50 PVE</text>
</svg>
</body></html>
